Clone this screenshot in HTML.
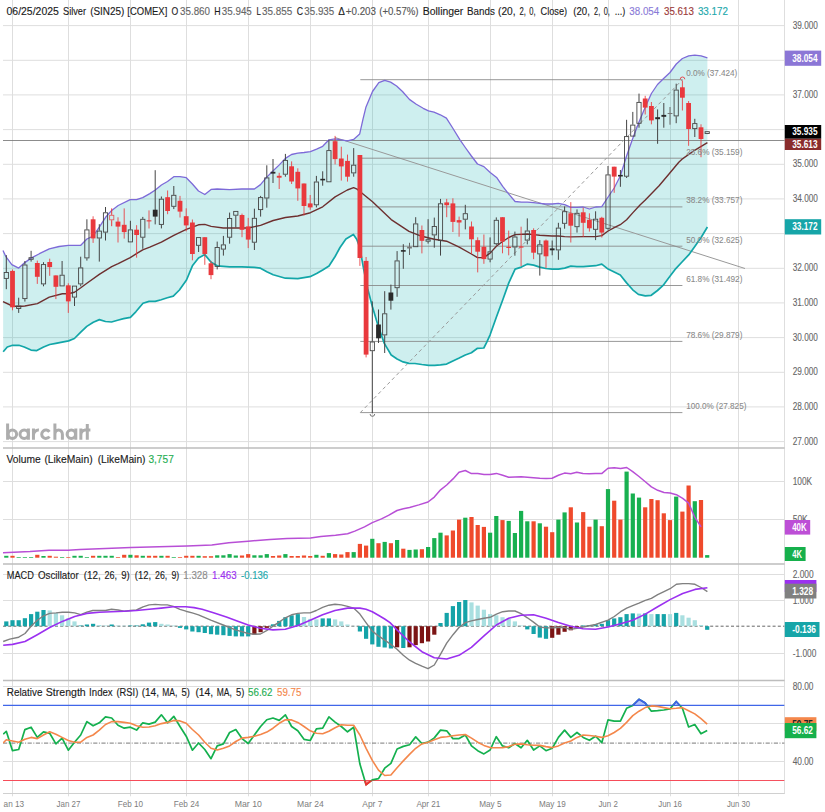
<!DOCTYPE html>
<html><head><meta charset="utf-8"><title>Silver (SIN25) chart</title>
<style>html,body{margin:0;padding:0;background:#fff}body{width:825px;height:812px;overflow:hidden;font-family:"Liberation Sans",sans-serif}svg{display:block}</style></head>
<body>
<svg width="825" height="812" viewBox="0 0 825 812" font-family="Liberation Sans, sans-serif">
<rect width="825" height="812" fill="#fff"/>
<defs><clipPath id="cp"><rect x="3" y="0" width="781.6" height="812"/></clipPath></defs>
<g stroke="#dedede" stroke-width="1" fill="none">
<line x1="12.5" y1="0" x2="12.5" y2="796.3"/>
<line x1="68.5" y1="0" x2="68.5" y2="796.3"/>
<line x1="130.5" y1="0" x2="130.5" y2="796.3"/>
<line x1="186.5" y1="0" x2="186.5" y2="796.3"/>
<line x1="248.5" y1="0" x2="248.5" y2="796.3"/>
<line x1="310.5" y1="0" x2="310.5" y2="796.3"/>
<line x1="372.5" y1="0" x2="372.5" y2="796.3"/>
<line x1="428.5" y1="0" x2="428.5" y2="796.3"/>
<line x1="490.5" y1="0" x2="490.5" y2="796.3"/>
<line x1="552.5" y1="0" x2="552.5" y2="796.3"/>
<line x1="608.5" y1="0" x2="608.5" y2="796.3"/>
<line x1="670.5" y1="0" x2="670.5" y2="796.3"/>
<line x1="738.5" y1="0" x2="738.5" y2="796.3"/>
<line x1="3" y1="25.6" x2="784.6" y2="25.6"/>
<line x1="3" y1="60.3" x2="784.6" y2="60.3"/>
<line x1="3" y1="94.9" x2="784.6" y2="94.9"/>
<line x1="3" y1="129.6" x2="784.6" y2="129.6"/>
<line x1="3" y1="164.3" x2="784.6" y2="164.3"/>
<line x1="3" y1="198.9" x2="784.6" y2="198.9"/>
<line x1="3" y1="233.6" x2="784.6" y2="233.6"/>
<line x1="3" y1="268.3" x2="784.6" y2="268.3"/>
<line x1="3" y1="302.9" x2="784.6" y2="302.9"/>
<line x1="3" y1="337.6" x2="784.6" y2="337.6"/>
<line x1="3" y1="372.3" x2="784.6" y2="372.3"/>
<line x1="3" y1="406.9" x2="784.6" y2="406.9"/>
<line x1="3" y1="441.6" x2="784.6" y2="441.6"/>
<line x1="3" y1="481.5" x2="784.6" y2="481.5"/>
<line x1="3" y1="519.5" x2="784.6" y2="519.5"/>
<line x1="3" y1="574.5" x2="784.6" y2="574.5"/>
<line x1="3" y1="600.5" x2="784.6" y2="600.5"/>
<line x1="3" y1="653.5" x2="784.6" y2="653.5"/>
<line x1="3" y1="686.5" x2="784.6" y2="686.5"/>
<line x1="3" y1="723.5" x2="784.6" y2="723.5"/>
<line x1="3" y1="761.5" x2="784.6" y2="761.5"/>
<line x1="784.5" y1="0" x2="784.5" y2="794"/>
<line x1="3" y1="793.5" x2="784.6" y2="793.5" stroke="#d0d0d0"/>
</g>
<line x1="3" y1="448" x2="784.6" y2="448" stroke="#bdbdbd" stroke-width="1.3"/>
<line x1="3" y1="564" x2="784.6" y2="564" stroke="#bdbdbd" stroke-width="1.3"/>
<line x1="3" y1="680.5" x2="784.6" y2="680.5" stroke="#bdbdbd" stroke-width="1.3"/>
<polygon points="3.0,250.4 5.9,256.7 11.8,264.6 18.7,268.1 24.8,262.6 31.1,258.1 39.4,253.7 49.3,248.8 59.1,246.5 68.4,245.3 80.8,245.3 86.9,239.0 93.2,236.0 99.3,227.1 105.6,217.3 111.7,210.4 118.2,205.5 130.2,199.6 136.5,199.6 142.7,197.6 149.8,193.6 155.3,190.0 161.4,185.0 167.5,181.5 173.8,176.7 180.0,176.7 186.3,177.7 192.4,184.0 198.5,191.0 204.8,194.5 211.1,189.4 217.2,189.0 229.6,189.6 241.8,189.0 254.4,189.0 260.5,184.6 266.8,177.1 273.2,170.8 279.3,164.9 285.4,158.4 291.5,154.5 297.8,153.1 304.0,152.5 310.4,151.6 316.6,149.1 322.7,146.3 329.0,139.8 335.1,138.8 347.3,140.8 353.6,139.4 359.7,133.9 363.0,119.1 366.0,106.9 372.5,91.5 378.8,82.7 384.7,80.3 390.6,82.1 396.6,86.0 402.5,91.5 409.4,99.4 416.3,104.3 423.2,108.3 428.5,110.8 434.0,112.2 440.3,114.8 446.4,118.1 452.7,128.0 460.0,139.8 465.3,147.5 471.4,156.0 477.5,164.0 483.9,166.6 490.2,172.5 496.6,177.4 502.7,186.3 508.8,194.2 515.1,201.5 521.4,202.1 527.5,202.1 533.6,202.7 539.7,203.4 545.8,204.0 552.1,204.0 558.4,203.4 564.7,204.6 570.8,207.4 576.9,207.4 583.3,207.0 589.4,209.0 595.7,207.0 601.8,206.6 608.1,197.0 614.2,188.0 620.3,176.0 626.6,156.0 632.9,138.0 639.0,122.0 645.3,107.0 651.4,93.5 657.5,84.5 663.6,78.5 670.0,72.5 676.3,64.0 682.4,58.5 688.7,55.8 694.8,55.2 701.1,55.8 707.4,57.8 707.4,227.0 701.1,237.5 694.8,246.5 688.7,254.9 682.0,262.0 674.9,269.7 669.0,277.5 663.1,285.4 657.5,290.5 651.2,295.3 645.3,295.9 638.4,294.3 632.7,289.8 626.6,282.9 620.3,275.0 614.2,272.0 608.1,269.1 601.8,264.1 595.7,265.7 589.4,266.1 583.3,266.7 576.9,266.7 570.8,266.1 564.7,268.1 558.4,269.1 552.1,269.1 545.8,268.5 539.7,267.1 533.6,265.1 527.5,264.1 521.4,267.1 515.1,269.1 508.8,282.9 502.7,300.0 496.6,316.5 490.1,334.8 486.8,342.2 483.8,348.0 477.5,348.3 471.4,352.7 465.3,355.0 459.2,358.0 452.9,360.9 446.6,364.1 440.5,364.9 434.6,365.3 428.7,365.3 421.8,364.5 414.9,363.5 409.0,363.3 403.1,361.9 397.1,359.0 391.2,355.0 384.3,343.4 378.4,326.7 372.5,307.0 367.6,288.5 363.6,268.8 359.7,247.1 356.7,239.3 353.4,234.5 345.9,239.0 340.0,247.5 335.1,256.5 329.0,266.0 322.7,270.0 316.6,273.5 310.0,276.7 297.8,278.6 285.4,278.2 273.2,274.7 266.8,271.7 260.5,268.2 254.4,267.4 241.8,266.8 229.6,266.8 217.2,265.8 211.1,262.3 204.8,254.6 198.5,257.9 192.4,265.8 186.5,280.0 179.4,290.0 173.3,296.1 167.3,297.8 161.2,299.7 155.2,301.4 149.1,301.4 143.0,303.3 135.8,311.8 130.4,317.4 123.6,318.6 117.6,320.3 111.5,322.0 105.5,321.5 99.4,319.6 93.3,322.2 86.8,326.4 80.5,332.4 74.4,338.5 68.6,340.9 62.1,342.1 55.8,343.3 49.7,344.5 43.6,347.0 36.8,350.6 31.0,350.1 24.2,347.0 18.9,345.3 12.6,345.3 7.3,347.0 3.2,351.8" fill="#18b4b4" fill-opacity="0.21"/>
<line x1="3" y1="140.5" x2="784.6" y2="140.5" stroke="#777" stroke-width="0.85"/>
<line x1="335" y1="137.5" x2="745" y2="268.5" stroke="#999" stroke-width="1"/>
<line x1="360.3" y1="79.7" x2="682.4" y2="79.7" stroke="#858585" stroke-width="0.85"/>
<line x1="360.3" y1="158.2" x2="682.4" y2="158.2" stroke="#858585" stroke-width="0.85"/>
<line x1="360.3" y1="206.9" x2="682.4" y2="206.9" stroke="#858585" stroke-width="0.85"/>
<line x1="360.3" y1="246.2" x2="682.4" y2="246.2" stroke="#858585" stroke-width="0.85"/>
<line x1="360.3" y1="285.5" x2="682.4" y2="285.5" stroke="#858585" stroke-width="0.85"/>
<line x1="360.3" y1="341.4" x2="682.4" y2="341.4" stroke="#858585" stroke-width="0.85"/>
<line x1="360.3" y1="412.6" x2="682.4" y2="412.6" stroke="#858585" stroke-width="0.85"/>
<line x1="360.3" y1="412.6" x2="682.4" y2="79.7" stroke="#9a9a9a" stroke-width="1" stroke-dasharray="3.5,3"/>
<polyline points="3.2,351.8 7.3,347.0 12.6,345.3 18.9,345.3 24.2,347.0 31.0,350.1 36.8,350.6 43.6,347.0 49.7,344.5 55.8,343.3 62.1,342.1 68.6,340.9 74.4,338.5 80.5,332.4 86.8,326.4 93.3,322.2 99.4,319.6 105.5,321.5 111.5,322.0 117.6,320.3 123.6,318.6 130.4,317.4 135.8,311.8 143.0,303.3 149.1,301.4 155.2,301.4 161.2,299.7 167.3,297.8 173.3,296.1 179.4,290.0 186.5,280.0 192.4,265.8 198.5,257.9 204.8,254.6 211.1,262.3 217.2,265.8 229.6,266.8 241.8,266.8 254.4,267.4 260.5,268.2 266.8,271.7 273.2,274.7 285.4,278.2 297.8,278.6 310.0,276.7 316.6,273.5 322.7,270.0 329.0,266.0 335.1,256.5 340.0,247.5 345.9,239.0 353.4,234.5 356.7,239.3 359.7,247.1 363.6,268.8 367.6,288.5 372.5,307.0 378.4,326.7 384.3,343.4 391.2,355.0 397.1,359.0 403.1,361.9 409.0,363.3 414.9,363.5 421.8,364.5 428.7,365.3 434.6,365.3 440.5,364.9 446.6,364.1 452.9,360.9 459.2,358.0 465.3,355.0 471.4,352.7 477.5,348.3 483.8,348.0 486.8,342.2 490.1,334.8 496.6,316.5 502.7,300.0 508.8,282.9 515.1,269.1 521.4,267.1 527.5,264.1 533.6,265.1 539.7,267.1 545.8,268.5 552.1,269.1 558.4,269.1 564.7,268.1 570.8,266.1 576.9,266.7 583.3,266.7 589.4,266.1 595.7,265.7 601.8,264.1 608.1,269.1 614.2,272.0 620.3,275.0 626.6,282.9 632.7,289.8 638.4,294.3 645.3,295.9 651.2,295.3 657.5,290.5 663.1,285.4 669.0,277.5 674.9,269.7 682.0,262.0 688.7,254.9 694.8,246.5 701.1,237.5 707.4,227.0" fill="none" stroke="#12a6a8" stroke-width="1.7" stroke-linejoin="round"/>
<polyline points="3.0,250.4 5.9,256.7 11.8,264.6 18.7,268.1 24.8,262.6 31.1,258.1 39.4,253.7 49.3,248.8 59.1,246.5 68.4,245.3 80.8,245.3 86.9,239.0 93.2,236.0 99.3,227.1 105.6,217.3 111.7,210.4 118.2,205.5 130.2,199.6 136.5,199.6 142.7,197.6 149.8,193.6 155.3,190.0 161.4,185.0 167.5,181.5 173.8,176.7 180.0,176.7 186.3,177.7 192.4,184.0 198.5,191.0 204.8,194.5 211.1,189.4 217.2,189.0 229.6,189.6 241.8,189.0 254.4,189.0 260.5,184.6 266.8,177.1 273.2,170.8 279.3,164.9 285.4,158.4 291.5,154.5 297.8,153.1 304.0,152.5 310.4,151.6 316.6,149.1 322.7,146.3 329.0,139.8 335.1,138.8 347.3,140.8 353.6,139.4 359.7,133.9 363.0,119.1 366.0,106.9 372.5,91.5 378.8,82.7 384.7,80.3 390.6,82.1 396.6,86.0 402.5,91.5 409.4,99.4 416.3,104.3 423.2,108.3 428.5,110.8 434.0,112.2 440.3,114.8 446.4,118.1 452.7,128.0 460.0,139.8 465.3,147.5 471.4,156.0 477.5,164.0 483.9,166.6 490.2,172.5 496.6,177.4 502.7,186.3 508.8,194.2 515.1,201.5 521.4,202.1 527.5,202.1 533.6,202.7 539.7,203.4 545.8,204.0 552.1,204.0 558.4,203.4 564.7,204.6 570.8,207.4 576.9,207.4 583.3,207.0 589.4,209.0 595.7,207.0 601.8,206.6 608.1,197.0 614.2,188.0 620.3,176.0 626.6,156.0 632.9,138.0 639.0,122.0 645.3,107.0 651.4,93.5 657.5,84.5 663.6,78.5 670.0,72.5 676.3,64.0 682.4,58.5 688.7,55.8 694.8,55.2 701.1,55.8 707.4,57.8" fill="none" stroke="#7d6ad8" stroke-width="1.3" stroke-linejoin="round"/>
<polyline points="3.0,301.6 12.4,306.0 18.7,306.5 24.8,306.0 37.4,303.6 49.3,297.1 62.3,293.7 68.4,293.7 74.5,292.2 80.8,287.8 86.9,283.3 99.3,274.4 111.7,266.6 118.2,263.6 130.2,257.7 136.5,253.7 142.7,249.8 149.8,247.2 161.4,242.2 173.8,235.3 186.3,229.4 198.5,224.8 204.8,224.4 211.1,226.4 223.3,228.0 235.7,228.0 248.1,228.0 260.5,225.4 273.2,220.5 285.4,217.5 297.8,216.0 310.4,212.7 322.7,206.8 335.1,196.9 347.3,190.0 353.6,187.7 357.1,189.1 363.0,194.0 372.5,201.8 391.2,219.6 409.0,231.4 421.8,236.3 434.2,239.3 446.6,241.2 459.2,247.1 471.4,254.0 477.5,257.6 483.8,257.6 490.1,253.1 496.6,246.0 502.7,241.5 508.8,237.5 515.1,234.6 527.5,234.0 533.6,234.6 539.7,235.2 552.1,236.0 558.4,236.0 564.7,236.6 570.8,236.9 583.3,236.6 595.7,236.6 601.8,235.6 608.1,231.0 614.2,227.7 620.3,224.7 626.6,219.8 632.7,212.9 640.0,205.0 645.3,200.0 659.1,185.8 669.0,174.0 678.8,162.2 682.8,158.6 694.6,150.3 707.4,142.6" fill="none" stroke="#6d2f2f" stroke-width="1.4" stroke-linejoin="round"/>
<g clip-path="url(#cp)">
<path d="M6.3 255.1V272.1M6.3 278.8V289.2" stroke="#444" stroke-width="1" fill="none"/>
<rect x="4.2" y="272.5" width="4.2" height="5.9" fill="none" stroke="#444" stroke-width="0.9"/>
<line x1="12.5" y1="269.5" x2="12.5" y2="310.3" stroke="#e9393d" stroke-width="1" stroke-opacity="0.85"/>
<rect x="10.1" y="270.9" width="4.8" height="36.4" fill="#e9393d"/>
<path d="M18.7 297.7V305.6M18.7 308.9V312.9" stroke="#444" stroke-width="1" fill="none"/>
<rect x="16.6" y="306.0" width="4.2" height="2.5" fill="none" stroke="#444" stroke-width="0.9"/>
<path d="M24.9 261V264.6M24.9 299.0V301.6" stroke="#444" stroke-width="1" fill="none"/>
<rect x="22.8" y="265.0" width="4.2" height="33.6" fill="none" stroke="#444" stroke-width="0.9"/>
<path d="M31.1 250.8V257.3M31.1 259.7V261.6" stroke="#444" stroke-width="1" fill="none"/>
<rect x="29.0" y="257.7" width="4.2" height="1.6" fill="none" stroke="#444" stroke-width="0.9"/>
<line x1="37.3" y1="260.6" x2="37.3" y2="283.9" stroke="#e9393d" stroke-width="1" stroke-opacity="0.85"/>
<rect x="34.9" y="263.0" width="4.8" height="13.8" fill="#e9393d"/>
<path d="M43.5 262.2V264.2M43.5 284.3V286.3" stroke="#444" stroke-width="1" fill="none"/>
<rect x="41.4" y="264.6" width="4.2" height="19.3" fill="none" stroke="#444" stroke-width="0.9"/>
<line x1="49.7" y1="258.7" x2="49.7" y2="275.8" stroke="#e9393d" stroke-width="1" stroke-opacity="0.85"/>
<rect x="47.3" y="262.0" width="4.8" height="5.1" fill="#e9393d"/>
<line x1="55.9" y1="275.4" x2="55.9" y2="299.1" stroke="#e9393d" stroke-width="1" stroke-opacity="0.85"/>
<rect x="53.5" y="275.4" width="4.8" height="11.4" fill="#e9393d"/>
<path d="M62.1 261V274.8M62.1 286.3V286.3" stroke="#444" stroke-width="1" fill="none"/>
<rect x="60.0" y="275.2" width="4.2" height="10.7" fill="none" stroke="#444" stroke-width="0.9"/>
<line x1="68.3" y1="283.3" x2="68.3" y2="312.9" stroke="#e9393d" stroke-width="1" stroke-opacity="0.85"/>
<rect x="65.9" y="285.3" width="4.8" height="16.1" fill="#e9393d"/>
<path d="M74.5 285.7V285.7M74.5 297.5V306" stroke="#444" stroke-width="1" fill="none"/>
<rect x="72.4" y="286.1" width="4.2" height="11.0" fill="none" stroke="#444" stroke-width="0.9"/>
<path d="M80.7 256.7V267.5M80.7 284.3V286.3" stroke="#444" stroke-width="1" fill="none"/>
<rect x="78.6" y="267.9" width="4.2" height="16.0" fill="none" stroke="#444" stroke-width="0.9"/>
<path d="M86.9 219.3V229.5M86.9 258.3V260.6" stroke="#444" stroke-width="1" fill="none"/>
<rect x="84.8" y="229.9" width="4.2" height="28.0" fill="none" stroke="#444" stroke-width="0.9"/>
<line x1="93.1" y1="216.3" x2="93.1" y2="242.9" stroke="#e9393d" stroke-width="1" stroke-opacity="0.85"/>
<rect x="90.7" y="219.3" width="4.8" height="19.1" fill="#e9393d"/>
<path d="M99.3 224.2V230.7M99.3 238.4V261.6" stroke="#444" stroke-width="1" fill="none"/>
<rect x="97.2" y="231.1" width="4.2" height="6.9" fill="none" stroke="#444" stroke-width="0.9"/>
<path d="M105.5 207V212.4M105.5 232.5V240.5" stroke="#444" stroke-width="1" fill="none"/>
<rect x="103.4" y="212.8" width="4.2" height="19.3" fill="none" stroke="#444" stroke-width="0.9"/>
<path d="M111.7 208.4V214.9M111.7 220.2V226.2" stroke="#e9393d" stroke-width="1" fill="none"/>
<rect x="109.6" y="215.3" width="4.2" height="4.5" fill="none" stroke="#e9393d" stroke-width="0.9" stroke-opacity="0.8"/>
<line x1="118.0" y1="217.3" x2="118.0" y2="242.5" stroke="#e9393d" stroke-width="1" stroke-opacity="0.85"/>
<rect x="115.6" y="221.6" width="4.8" height="5.0" fill="#e9393d"/>
<line x1="124.2" y1="208.4" x2="124.2" y2="238.6" stroke="#e9393d" stroke-width="1" stroke-opacity="0.85"/>
<rect x="121.8" y="224.8" width="4.8" height="7.3" fill="#e9393d"/>
<path d="M130.4 220.8V229.5M130.4 242.3V242.3" stroke="#444" stroke-width="1" fill="none"/>
<rect x="128.3" y="229.9" width="4.2" height="12.0" fill="none" stroke="#444" stroke-width="0.9"/>
<line x1="136.6" y1="225.2" x2="136.6" y2="257.7" stroke="#e9393d" stroke-width="1" stroke-opacity="0.85"/>
<rect x="134.2" y="229.7" width="4.8" height="5.3" fill="#e9393d"/>
<path d="M142.8 216.9V218.9M142.8 237.6V248.8" stroke="#444" stroke-width="1" fill="none"/>
<rect x="140.7" y="219.3" width="4.2" height="17.9" fill="none" stroke="#444" stroke-width="0.9"/>
<line x1="149.0" y1="210.4" x2="149.0" y2="228.5" stroke="#e9393d" stroke-width="1" stroke-opacity="0.85"/>
<rect x="146.6" y="220.3" width="4.8" height="1.1" fill="#e9393d"/>
<line x1="155.2" y1="170.2" x2="155.2" y2="224.4" stroke="#444" stroke-width="1"/>
<rect x="152.8" y="209.7" width="4.8" height="6.9" fill="#2a2a2a"/>
<path d="M161.4 196.5V198.8M161.4 224.8V228.4" stroke="#444" stroke-width="1" fill="none"/>
<rect x="159.3" y="199.2" width="4.2" height="25.2" fill="none" stroke="#444" stroke-width="0.9"/>
<line x1="167.6" y1="190.5" x2="167.6" y2="214.2" stroke="#e9393d" stroke-width="1" stroke-opacity="0.85"/>
<rect x="165.2" y="197.2" width="4.8" height="13.8" fill="#e9393d"/>
<path d="M173.8 186V194.9M173.8 206.7V209.1" stroke="#444" stroke-width="1" fill="none"/>
<rect x="171.7" y="195.3" width="4.2" height="11.0" fill="none" stroke="#444" stroke-width="0.9"/>
<line x1="180.0" y1="195.9" x2="180.0" y2="217.5" stroke="#e9393d" stroke-width="1" stroke-opacity="0.85"/>
<rect x="177.6" y="200.8" width="4.8" height="10.8" fill="#e9393d"/>
<line x1="186.2" y1="208.3" x2="186.2" y2="231.3" stroke="#e9393d" stroke-width="1" stroke-opacity="0.85"/>
<rect x="183.8" y="216.2" width="4.8" height="9.2" fill="#e9393d"/>
<line x1="192.4" y1="219.5" x2="192.4" y2="260.3" stroke="#e9393d" stroke-width="1" stroke-opacity="0.85"/>
<rect x="190.0" y="222.5" width="4.8" height="31.5" fill="#e9393d"/>
<path d="M198.6 237.2V237.2M198.6 245.7V252" stroke="#444" stroke-width="1" fill="none"/>
<rect x="196.5" y="237.6" width="4.2" height="7.7" fill="none" stroke="#444" stroke-width="0.9"/>
<line x1="204.8" y1="237.2" x2="204.8" y2="264.8" stroke="#e9393d" stroke-width="1" stroke-opacity="0.85"/>
<rect x="202.4" y="237.2" width="4.8" height="16.8" fill="#e9393d"/>
<line x1="211.0" y1="260.9" x2="211.0" y2="279.2" stroke="#e9393d" stroke-width="1" stroke-opacity="0.85"/>
<rect x="208.6" y="263.3" width="4.8" height="11.8" fill="#e9393d"/>
<path d="M217.2 241.6V247.1M217.2 266.8V269.4" stroke="#444" stroke-width="1" fill="none"/>
<rect x="215.1" y="247.5" width="4.2" height="18.9" fill="none" stroke="#444" stroke-width="0.9"/>
<path d="M223.4 235.9V244.5M223.4 249.5V255.6" stroke="#444" stroke-width="1" fill="none"/>
<rect x="221.3" y="244.9" width="4.2" height="4.2" fill="none" stroke="#444" stroke-width="0.9"/>
<path d="M229.6 212.6V218.1M229.6 237.6V243.7" stroke="#444" stroke-width="1" fill="none"/>
<rect x="227.5" y="218.5" width="4.2" height="18.7" fill="none" stroke="#444" stroke-width="0.9"/>
<path d="M235.8 211V211.0M235.8 215.6V227.4" stroke="#444" stroke-width="1" fill="none"/>
<rect x="233.7" y="211.4" width="4.2" height="3.8" fill="none" stroke="#444" stroke-width="0.9"/>
<line x1="242.0" y1="213.6" x2="242.0" y2="237.2" stroke="#e9393d" stroke-width="1" stroke-opacity="0.85"/>
<rect x="239.6" y="215.0" width="4.8" height="14.8" fill="#e9393d"/>
<line x1="248.2" y1="217.9" x2="248.2" y2="248.1" stroke="#e9393d" stroke-width="1" stroke-opacity="0.85"/>
<rect x="245.8" y="226.4" width="4.8" height="13.2" fill="#e9393d"/>
<path d="M254.4 208.7V217.9M254.4 242.6V250" stroke="#444" stroke-width="1" fill="none"/>
<rect x="252.3" y="218.3" width="4.2" height="23.9" fill="none" stroke="#444" stroke-width="0.9"/>
<path d="M260.6 195.9V197.2M260.6 210.0V216.6" stroke="#444" stroke-width="1" fill="none"/>
<rect x="258.5" y="197.6" width="4.2" height="12.0" fill="none" stroke="#444" stroke-width="0.9"/>
<path d="M266.8 165.3V177.5M266.8 198.4V207.7" stroke="#444" stroke-width="1" fill="none"/>
<rect x="264.7" y="177.9" width="4.2" height="20.1" fill="none" stroke="#444" stroke-width="0.9"/>
<line x1="273.0" y1="159" x2="273.0" y2="183" stroke="#444" stroke-width="1"/>
<rect x="270.6" y="171.8" width="4.8" height="1.8" fill="#2a2a2a"/>
<line x1="279.2" y1="172.8" x2="279.2" y2="189" stroke="#e9393d" stroke-width="1" stroke-opacity="0.85"/>
<rect x="276.8" y="175.8" width="4.8" height="1.9" fill="#e9393d"/>
<path d="M285.4 153.9V160.0M285.4 174.6V176.7" stroke="#444" stroke-width="1" fill="none"/>
<rect x="283.3" y="160.4" width="4.2" height="13.8" fill="none" stroke="#444" stroke-width="0.9"/>
<line x1="291.6" y1="161.4" x2="291.6" y2="184" stroke="#e9393d" stroke-width="1" stroke-opacity="0.85"/>
<rect x="289.2" y="166.3" width="4.8" height="15.2" fill="#e9393d"/>
<line x1="297.8" y1="168.3" x2="297.8" y2="200.8" stroke="#e9393d" stroke-width="1" stroke-opacity="0.85"/>
<rect x="295.4" y="171.8" width="4.8" height="16.6" fill="#e9393d"/>
<line x1="304.0" y1="183.5" x2="304.0" y2="215.5" stroke="#e9393d" stroke-width="1" stroke-opacity="0.85"/>
<rect x="301.6" y="183.5" width="4.8" height="22.5" fill="#e9393d"/>
<line x1="310.2" y1="195" x2="310.2" y2="209.8" stroke="#e9393d" stroke-width="1" stroke-opacity="0.85"/>
<rect x="307.8" y="203.4" width="4.8" height="4.0" fill="#e9393d"/>
<path d="M316.4 175.9V181.6M316.4 205.2V207.4" stroke="#444" stroke-width="1" fill="none"/>
<rect x="314.3" y="182.0" width="4.2" height="22.8" fill="none" stroke="#444" stroke-width="0.9"/>
<line x1="322.7" y1="171.3" x2="322.7" y2="185.7" stroke="#444" stroke-width="1"/>
<rect x="320.3" y="178.8" width="4.8" height="1.6" fill="#2a2a2a"/>
<path d="M328.9 139.8V150.2M328.9 182.2V182.2" stroke="#444" stroke-width="1" fill="none"/>
<rect x="326.8" y="150.6" width="4.2" height="31.2" fill="none" stroke="#444" stroke-width="0.9"/>
<line x1="335.1" y1="135.9" x2="335.1" y2="164.4" stroke="#e9393d" stroke-width="1" stroke-opacity="0.85"/>
<rect x="332.7" y="141.2" width="4.8" height="17.9" fill="#e9393d"/>
<line x1="341.3" y1="146.7" x2="341.3" y2="180.6" stroke="#e9393d" stroke-width="1" stroke-opacity="0.85"/>
<rect x="338.9" y="158.5" width="4.8" height="7.9" fill="#e9393d"/>
<line x1="347.5" y1="154.6" x2="347.5" y2="181.6" stroke="#e9393d" stroke-width="1" stroke-opacity="0.85"/>
<rect x="345.1" y="160.9" width="4.8" height="15.8" fill="#e9393d"/>
<path d="M353.7 148.1V164.8M353.7 173.3V176.7" stroke="#444" stroke-width="1" fill="none"/>
<rect x="351.6" y="165.2" width="4.2" height="7.7" fill="none" stroke="#444" stroke-width="0.9"/>
<line x1="359.9" y1="155" x2="359.9" y2="265.9" stroke="#e9393d" stroke-width="1" stroke-opacity="0.85"/>
<rect x="357.5" y="155.0" width="4.8" height="103.0" fill="#e9393d"/>
<line x1="366.1" y1="257" x2="366.1" y2="357.4" stroke="#e9393d" stroke-width="1" stroke-opacity="0.85"/>
<rect x="363.7" y="260.9" width="4.8" height="93.7" fill="#e9393d"/>
<path d="M372.3 301.4V341.6M372.3 351.1V413.2" stroke="#444" stroke-width="1" fill="none"/>
<rect x="370.2" y="342.0" width="4.2" height="8.7" fill="none" stroke="#444" stroke-width="0.9"/>
<line x1="378.5" y1="309.5" x2="378.5" y2="343" stroke="#444" stroke-width="1"/>
<rect x="376.1" y="324.5" width="4.8" height="13.8" fill="#2a2a2a"/>
<path d="M384.7 291.2V313.4M384.7 335.3V353" stroke="#444" stroke-width="1" fill="none"/>
<rect x="382.6" y="313.8" width="4.2" height="21.1" fill="none" stroke="#444" stroke-width="0.9"/>
<line x1="390.9" y1="284.6" x2="390.9" y2="309.6" stroke="#444" stroke-width="1"/>
<rect x="388.5" y="292.5" width="4.8" height="8.2" fill="#2a2a2a"/>
<path d="M397.1 251.1V260.5M397.1 288.1V296.8" stroke="#444" stroke-width="1" fill="none"/>
<rect x="395.0" y="260.9" width="4.2" height="26.8" fill="none" stroke="#444" stroke-width="0.9"/>
<line x1="403.3" y1="244.2" x2="403.3" y2="268.8" stroke="#444" stroke-width="1"/>
<rect x="400.9" y="250.1" width="4.8" height="1.6" fill="#2a2a2a"/>
<line x1="409.5" y1="242.8" x2="409.5" y2="255" stroke="#666" stroke-width="1"/>
<rect x="407.1" y="246.7" width="4.8" height="1.8" fill="#777"/>
<path d="M415.7 217.2V223.5M415.7 247.1V247.1" stroke="#444" stroke-width="1" fill="none"/>
<rect x="413.6" y="223.9" width="4.2" height="22.8" fill="none" stroke="#444" stroke-width="0.9"/>
<line x1="421.9" y1="225.5" x2="421.9" y2="253.4" stroke="#e9393d" stroke-width="1" stroke-opacity="0.85"/>
<rect x="419.5" y="230.0" width="4.8" height="10.8" fill="#e9393d"/>
<path d="M428.1 219.2V239.3M428.1 241.6V243.6" stroke="#444" stroke-width="1" fill="none"/>
<rect x="426.0" y="239.7" width="4.2" height="1.5" fill="none" stroke="#444" stroke-width="0.9"/>
<path d="M434.3 217.6V226.1M434.3 235.3V247.7" stroke="#444" stroke-width="1" fill="none"/>
<rect x="432.2" y="226.5" width="4.2" height="8.4" fill="none" stroke="#444" stroke-width="0.9"/>
<path d="M440.5 198.9V203.4M440.5 240.8V255.6" stroke="#444" stroke-width="1" fill="none"/>
<rect x="438.4" y="203.8" width="4.2" height="36.6" fill="none" stroke="#444" stroke-width="0.9"/>
<line x1="446.7" y1="198.9" x2="446.7" y2="217.2" stroke="#e9393d" stroke-width="1" stroke-opacity="0.85"/>
<rect x="444.3" y="202.4" width="4.8" height="2.8" fill="#e9393d"/>
<line x1="452.9" y1="198.3" x2="452.9" y2="232" stroke="#e9393d" stroke-width="1" stroke-opacity="0.85"/>
<rect x="450.5" y="203.4" width="4.8" height="18.5" fill="#e9393d"/>
<line x1="459.1" y1="216.6" x2="459.1" y2="236.7" stroke="#e9393d" stroke-width="1" stroke-opacity="0.85"/>
<rect x="456.7" y="220.1" width="4.8" height="2.4" fill="#e9393d"/>
<path d="M465.3 204.8V213.3M465.3 219.6V229.4" stroke="#444" stroke-width="1" fill="none"/>
<rect x="463.2" y="213.7" width="4.2" height="5.5" fill="none" stroke="#444" stroke-width="0.9"/>
<line x1="471.5" y1="221.5" x2="471.5" y2="254" stroke="#e9393d" stroke-width="1" stroke-opacity="0.85"/>
<rect x="469.1" y="226.5" width="4.8" height="12.8" fill="#e9393d"/>
<line x1="477.7" y1="237.3" x2="477.7" y2="272.4" stroke="#e9393d" stroke-width="1" stroke-opacity="0.85"/>
<rect x="475.3" y="240.2" width="4.8" height="11.5" fill="#e9393d"/>
<line x1="483.9" y1="234.5" x2="483.9" y2="263.8" stroke="#e9393d" stroke-width="1" stroke-opacity="0.85"/>
<rect x="481.5" y="246.8" width="4.8" height="12.3" fill="#e9393d"/>
<path d="M490.1 237.4V251.4M490.1 259.5V262.3" stroke="#444" stroke-width="1" fill="none"/>
<rect x="488.0" y="251.8" width="4.2" height="7.3" fill="none" stroke="#444" stroke-width="0.9"/>
<path d="M496.3 217.4V219.9M496.3 244.1V245.1" stroke="#444" stroke-width="1" fill="none"/>
<rect x="494.2" y="220.3" width="4.2" height="23.4" fill="none" stroke="#444" stroke-width="0.9"/>
<line x1="502.5" y1="217.2" x2="502.5" y2="253.3" stroke="#e9393d" stroke-width="1" stroke-opacity="0.85"/>
<rect x="500.1" y="217.2" width="4.8" height="24.3" fill="#e9393d"/>
<line x1="508.7" y1="230.6" x2="508.7" y2="255.3" stroke="#e9393d" stroke-width="1" stroke-opacity="0.85"/>
<rect x="506.3" y="246.8" width="4.8" height="1.2" fill="#e9393d"/>
<path d="M514.9 231.6V236.6M514.9 247.4V255.7" stroke="#444" stroke-width="1" fill="none"/>
<rect x="512.8" y="237.0" width="4.2" height="10.0" fill="none" stroke="#444" stroke-width="0.9"/>
<line x1="521.1" y1="226.7" x2="521.1" y2="266.1" stroke="#e9393d" stroke-width="1" stroke-opacity="0.85"/>
<rect x="518.7" y="246.4" width="4.8" height="1.2" fill="#e9393d"/>
<path d="M527.3 218.4V230.6M527.3 240.5V244.4" stroke="#444" stroke-width="1" fill="none"/>
<rect x="525.2" y="231.0" width="4.2" height="9.1" fill="none" stroke="#444" stroke-width="0.9"/>
<line x1="533.6" y1="228.3" x2="533.6" y2="259.2" stroke="#e9393d" stroke-width="1" stroke-opacity="0.85"/>
<rect x="531.2" y="230.0" width="4.8" height="22.7" fill="#e9393d"/>
<path d="M539.8 240.1V244.4M539.8 254.3V275.6" stroke="#444" stroke-width="1" fill="none"/>
<rect x="537.7" y="244.8" width="4.2" height="9.1" fill="none" stroke="#444" stroke-width="0.9"/>
<line x1="546.0" y1="239.5" x2="546.0" y2="268.1" stroke="#e9393d" stroke-width="1" stroke-opacity="0.85"/>
<rect x="543.6" y="240.5" width="4.8" height="15.8" fill="#e9393d"/>
<line x1="552.2" y1="240.5" x2="552.2" y2="255.3" stroke="#444" stroke-width="1"/>
<rect x="549.8" y="248.4" width="4.8" height="1.9" fill="#2a2a2a"/>
<path d="M558.4 222.8V227.7M558.4 250.3V259.8" stroke="#444" stroke-width="1" fill="none"/>
<rect x="556.3" y="228.1" width="4.2" height="21.8" fill="none" stroke="#444" stroke-width="0.9"/>
<path d="M564.6 206.4V211.3M564.6 223.7V228.7" stroke="#444" stroke-width="1" fill="none"/>
<rect x="562.5" y="211.7" width="4.2" height="11.6" fill="none" stroke="#444" stroke-width="0.9"/>
<line x1="570.8" y1="202.1" x2="570.8" y2="242.5" stroke="#e9393d" stroke-width="1" stroke-opacity="0.85"/>
<rect x="568.4" y="213.3" width="4.8" height="12.4" fill="#e9393d"/>
<path d="M577.0 209.4V212.9M577.0 227.1V232.6" stroke="#444" stroke-width="1" fill="none"/>
<rect x="574.9" y="213.3" width="4.2" height="13.4" fill="none" stroke="#444" stroke-width="0.9"/>
<line x1="583.2" y1="207.6" x2="583.2" y2="236.9" stroke="#e9393d" stroke-width="1" stroke-opacity="0.85"/>
<rect x="580.8" y="212.3" width="4.8" height="10.5" fill="#e9393d"/>
<line x1="589.4" y1="213.3" x2="589.4" y2="231.6" stroke="#e9393d" stroke-width="1" stroke-opacity="0.85"/>
<rect x="587.0" y="219.8" width="4.8" height="8.5" fill="#e9393d"/>
<path d="M595.6 211.3V218.8M595.6 229.7V240.1" stroke="#444" stroke-width="1" fill="none"/>
<rect x="593.5" y="219.2" width="4.2" height="10.1" fill="none" stroke="#444" stroke-width="0.9"/>
<line x1="601.8" y1="216.8" x2="601.8" y2="237.5" stroke="#e9393d" stroke-width="1" stroke-opacity="0.85"/>
<rect x="599.4" y="217.8" width="4.8" height="14.8" fill="#e9393d"/>
<path d="M608.0 166V174.5M608.0 228.7V229.7" stroke="#444" stroke-width="1" fill="none"/>
<rect x="605.9" y="174.9" width="4.2" height="53.4" fill="none" stroke="#444" stroke-width="0.9"/>
<line x1="614.2" y1="166.7" x2="614.2" y2="192.8" stroke="#e9393d" stroke-width="1" stroke-opacity="0.85"/>
<rect x="611.8" y="166.7" width="4.8" height="9.9" fill="#e9393d"/>
<line x1="620.4" y1="170" x2="620.4" y2="186.8" stroke="#444" stroke-width="1"/>
<rect x="618.0" y="174.9" width="4.8" height="1.6" fill="#2a2a2a"/>
<path d="M626.6 119.8V136.2M626.6 176.6V178" stroke="#444" stroke-width="1" fill="none"/>
<rect x="624.5" y="136.6" width="4.2" height="39.6" fill="none" stroke="#444" stroke-width="0.9"/>
<path d="M632.8 111.9V124.7M632.8 136.5V136.5" stroke="#444" stroke-width="1" fill="none"/>
<rect x="630.7" y="125.1" width="4.2" height="11.0" fill="none" stroke="#444" stroke-width="0.9"/>
<path d="M639.0 93.6V102.0M639.0 123.7V127.7" stroke="#444" stroke-width="1" fill="none"/>
<rect x="636.9" y="102.4" width="4.2" height="20.9" fill="none" stroke="#444" stroke-width="0.9"/>
<line x1="645.2" y1="95.8" x2="645.2" y2="114.5" stroke="#e9393d" stroke-width="1" stroke-opacity="0.85"/>
<rect x="642.8" y="98.5" width="4.8" height="9.1" fill="#e9393d"/>
<line x1="651.4" y1="102" x2="651.4" y2="124.3" stroke="#e9393d" stroke-width="1" stroke-opacity="0.85"/>
<rect x="649.0" y="106.0" width="4.8" height="14.4" fill="#e9393d"/>
<line x1="657.6" y1="109.4" x2="657.6" y2="143.8" stroke="#444" stroke-width="1"/>
<rect x="655.2" y="117.2" width="4.8" height="2.0" fill="#2a2a2a"/>
<line x1="663.8" y1="103" x2="663.8" y2="127.7" stroke="#444" stroke-width="1"/>
<rect x="661.4" y="114.9" width="4.8" height="1.9" fill="#2a2a2a"/>
<line x1="670.0" y1="107" x2="670.0" y2="124.7" stroke="#666" stroke-width="1"/>
<rect x="667.6" y="113.0" width="4.8" height="1.0" fill="#777"/>
<path d="M676.2 83.7V89.7M676.2 116.3V123.2" stroke="#444" stroke-width="1" fill="none"/>
<rect x="674.1" y="90.1" width="4.2" height="25.8" fill="none" stroke="#444" stroke-width="0.9"/>
<line x1="682.4" y1="80.4" x2="682.4" y2="110.5" stroke="#e9393d" stroke-width="1" stroke-opacity="0.85"/>
<rect x="680.0" y="87.3" width="4.8" height="10.4" fill="#e9393d"/>
<line x1="688.6" y1="101" x2="688.6" y2="145.8" stroke="#e9393d" stroke-width="1" stroke-opacity="0.85"/>
<rect x="686.2" y="103.0" width="4.8" height="26.0" fill="#e9393d"/>
<path d="M694.8 118.8V123.2M694.8 129.0V137" stroke="#444" stroke-width="1" fill="none"/>
<rect x="692.7" y="123.6" width="4.2" height="5.0" fill="none" stroke="#444" stroke-width="0.9"/>
<line x1="701.0" y1="124.3" x2="701.0" y2="157.2" stroke="#e9393d" stroke-width="1" stroke-opacity="0.85"/>
<rect x="698.6" y="127.3" width="4.8" height="11.7" fill="#e9393d"/>
<path d="M707.2 131.1V131.3M707.2 133.9V134.1" stroke="#444" stroke-width="1" fill="none"/>
<rect x="705.1" y="131.7" width="4.2" height="1.8" fill="none" stroke="#444" stroke-width="0.9"/>
</g>
<path d="M680.2 79.3 A2.3 2.3 0 0 1 684.8 79.3" fill="none" stroke="#e9393d" stroke-width="0.9"/>
<path d="M370.1 414 A2.3 2.3 0 0 0 374.7 414" fill="none" stroke="#666" stroke-width="0.9"/>
<g clip-path="url(#cp)">
<rect x="4.2" y="555.8" width="4.2" height="1.9" fill="#18b050"/>
<rect x="10.4" y="555.8" width="4.2" height="1.9" fill="#ef4a2c"/>
<rect x="16.6" y="557.0" width="4.2" height="0.7" fill="#18b050"/>
<rect x="22.8" y="557.0" width="4.2" height="0.7" fill="#18b050"/>
<rect x="29.0" y="557.0" width="4.2" height="0.7" fill="#18b050"/>
<rect x="35.2" y="554.8" width="4.2" height="2.9" fill="#ef4a2c"/>
<rect x="41.4" y="556.0" width="4.2" height="1.7" fill="#18b050"/>
<rect x="47.6" y="555.8" width="4.2" height="1.9" fill="#ef4a2c"/>
<rect x="53.8" y="556.7" width="4.2" height="1.0" fill="#ef4a2c"/>
<rect x="60.0" y="557.0" width="4.2" height="0.7" fill="#18b050"/>
<rect x="66.2" y="557.0" width="4.2" height="0.7" fill="#ef4a2c"/>
<rect x="72.4" y="555.8" width="4.2" height="1.9" fill="#18b050"/>
<rect x="78.6" y="555.8" width="4.2" height="1.9" fill="#18b050"/>
<rect x="84.8" y="557.0" width="4.2" height="0.7" fill="#18b050"/>
<rect x="91.0" y="555.8" width="4.2" height="1.9" fill="#ef4a2c"/>
<rect x="97.2" y="555.8" width="4.2" height="1.9" fill="#18b050"/>
<rect x="103.4" y="555.8" width="4.2" height="1.9" fill="#18b050"/>
<rect x="109.6" y="555.8" width="4.2" height="1.9" fill="#18b050"/>
<rect x="115.9" y="557.0" width="4.2" height="0.7" fill="#ef4a2c"/>
<rect x="122.1" y="554.8" width="4.2" height="2.9" fill="#ef4a2c"/>
<rect x="128.3" y="554.8" width="4.2" height="2.9" fill="#18b050"/>
<rect x="134.5" y="555.3" width="4.2" height="2.4" fill="#ef4a2c"/>
<rect x="140.7" y="555.8" width="4.2" height="1.9" fill="#18b050"/>
<rect x="146.9" y="555.8" width="4.2" height="1.9" fill="#ef4a2c"/>
<rect x="153.1" y="555.8" width="4.2" height="1.9" fill="#ef4a2c"/>
<rect x="159.3" y="555.8" width="4.2" height="1.9" fill="#18b050"/>
<rect x="165.5" y="555.8" width="4.2" height="1.9" fill="#ef4a2c"/>
<rect x="171.7" y="557.0" width="4.2" height="0.7" fill="#18b050"/>
<rect x="177.9" y="557.0" width="4.2" height="0.7" fill="#ef4a2c"/>
<rect x="184.1" y="555.8" width="4.2" height="1.9" fill="#ef4a2c"/>
<rect x="190.3" y="555.8" width="4.2" height="1.9" fill="#ef4a2c"/>
<rect x="196.5" y="555.8" width="4.2" height="1.9" fill="#18b050"/>
<rect x="202.7" y="556.2" width="4.2" height="1.5" fill="#ef4a2c"/>
<rect x="208.9" y="556.2" width="4.2" height="1.5" fill="#ef4a2c"/>
<rect x="215.1" y="555.3" width="4.2" height="2.4" fill="#18b050"/>
<rect x="221.3" y="555.3" width="4.2" height="2.4" fill="#18b050"/>
<rect x="227.5" y="554.1" width="4.2" height="3.6" fill="#18b050"/>
<rect x="233.7" y="555.5" width="4.2" height="2.2" fill="#18b050"/>
<rect x="239.9" y="555.5" width="4.2" height="2.2" fill="#ef4a2c"/>
<rect x="246.1" y="554.1" width="4.2" height="3.6" fill="#ef4a2c"/>
<rect x="252.3" y="555.3" width="4.2" height="2.4" fill="#18b050"/>
<rect x="258.5" y="555.3" width="4.2" height="2.4" fill="#18b050"/>
<rect x="264.7" y="554.1" width="4.2" height="3.6" fill="#18b050"/>
<rect x="270.9" y="556.0" width="4.2" height="1.7" fill="#ef4a2c"/>
<rect x="277.1" y="555.5" width="4.2" height="2.2" fill="#ef4a2c"/>
<rect x="283.3" y="554.1" width="4.2" height="3.6" fill="#18b050"/>
<rect x="289.5" y="556.0" width="4.2" height="1.7" fill="#ef4a2c"/>
<rect x="295.7" y="556.0" width="4.2" height="1.7" fill="#ef4a2c"/>
<rect x="301.9" y="555.5" width="4.2" height="2.2" fill="#ef4a2c"/>
<rect x="308.1" y="556.0" width="4.2" height="1.7" fill="#ef4a2c"/>
<rect x="314.3" y="554.8" width="4.2" height="2.9" fill="#18b050"/>
<rect x="320.6" y="555.8" width="4.2" height="1.9" fill="#ef4a2c"/>
<rect x="326.8" y="553.1" width="4.2" height="4.6" fill="#18b050"/>
<rect x="333.0" y="554.1" width="4.2" height="3.6" fill="#ef4a2c"/>
<rect x="339.2" y="554.5" width="4.2" height="3.2" fill="#ef4a2c"/>
<rect x="345.4" y="552.1" width="4.2" height="5.6" fill="#ef4a2c"/>
<rect x="351.6" y="552.1" width="4.2" height="5.6" fill="#18b050"/>
<rect x="357.8" y="543.9" width="4.2" height="13.8" fill="#ef4a2c"/>
<rect x="364.0" y="545.6" width="4.2" height="12.1" fill="#ef4a2c"/>
<rect x="370.2" y="538.8" width="4.2" height="18.9" fill="#18b050"/>
<rect x="376.4" y="543.2" width="4.2" height="14.5" fill="#ef4a2c"/>
<rect x="382.6" y="541.9" width="4.2" height="15.8" fill="#18b050"/>
<rect x="388.8" y="543.2" width="4.2" height="14.5" fill="#ef4a2c"/>
<rect x="395.0" y="540.0" width="4.2" height="17.7" fill="#18b050"/>
<rect x="401.2" y="548.7" width="4.2" height="9.0" fill="#ef4a2c"/>
<rect x="407.4" y="549.9" width="4.2" height="7.8" fill="#18b050"/>
<rect x="413.6" y="549.5" width="4.2" height="8.2" fill="#18b050"/>
<rect x="419.8" y="549.2" width="4.2" height="8.5" fill="#ef4a2c"/>
<rect x="426.0" y="547.0" width="4.2" height="10.7" fill="#18b050"/>
<rect x="432.2" y="538.1" width="4.2" height="19.6" fill="#18b050"/>
<rect x="438.4" y="532.7" width="4.2" height="25.0" fill="#18b050"/>
<rect x="444.6" y="535.4" width="4.2" height="22.3" fill="#ef4a2c"/>
<rect x="450.8" y="530.5" width="4.2" height="27.2" fill="#ef4a2c"/>
<rect x="457.0" y="519.6" width="4.2" height="38.1" fill="#ef4a2c"/>
<rect x="463.2" y="517.7" width="4.2" height="40.0" fill="#18b050"/>
<rect x="469.4" y="517.0" width="4.2" height="40.7" fill="#ef4a2c"/>
<rect x="475.6" y="525.0" width="4.2" height="32.7" fill="#ef4a2c"/>
<rect x="481.8" y="526.9" width="4.2" height="30.8" fill="#ef4a2c"/>
<rect x="488.0" y="532.7" width="4.2" height="25.0" fill="#18b050"/>
<rect x="494.2" y="516.0" width="4.2" height="41.7" fill="#18b050"/>
<rect x="500.4" y="520.1" width="4.2" height="37.6" fill="#ef4a2c"/>
<rect x="506.6" y="520.9" width="4.2" height="36.8" fill="#18b050"/>
<rect x="512.8" y="533.0" width="4.2" height="24.7" fill="#18b050"/>
<rect x="519.0" y="510.9" width="4.2" height="46.8" fill="#18b050"/>
<rect x="525.2" y="521.3" width="4.2" height="36.4" fill="#18b050"/>
<rect x="531.5" y="521.3" width="4.2" height="36.4" fill="#ef4a2c"/>
<rect x="537.7" y="523.3" width="4.2" height="34.4" fill="#18b050"/>
<rect x="543.9" y="526.7" width="4.2" height="31.0" fill="#ef4a2c"/>
<rect x="550.1" y="532.2" width="4.2" height="25.5" fill="#ef4a2c"/>
<rect x="556.3" y="519.6" width="4.2" height="38.1" fill="#18b050"/>
<rect x="562.5" y="512.4" width="4.2" height="45.3" fill="#18b050"/>
<rect x="568.7" y="507.3" width="4.2" height="50.4" fill="#ef4a2c"/>
<rect x="574.9" y="522.5" width="4.2" height="35.2" fill="#18b050"/>
<rect x="581.1" y="512.1" width="4.2" height="45.6" fill="#ef4a2c"/>
<rect x="587.3" y="526.7" width="4.2" height="31.0" fill="#ef4a2c"/>
<rect x="593.5" y="519.6" width="4.2" height="38.1" fill="#18b050"/>
<rect x="599.7" y="526.2" width="4.2" height="31.5" fill="#ef4a2c"/>
<rect x="605.9" y="489.1" width="4.2" height="68.6" fill="#18b050"/>
<rect x="612.1" y="500.7" width="4.2" height="57.0" fill="#ef4a2c"/>
<rect x="618.3" y="519.6" width="4.2" height="38.1" fill="#ef4a2c"/>
<rect x="624.5" y="471.6" width="4.2" height="86.1" fill="#18b050"/>
<rect x="630.7" y="493.5" width="4.2" height="64.2" fill="#18b050"/>
<rect x="636.9" y="497.6" width="4.2" height="60.1" fill="#18b050"/>
<rect x="643.1" y="507.3" width="4.2" height="50.4" fill="#ef4a2c"/>
<rect x="649.3" y="499.0" width="4.2" height="58.7" fill="#ef4a2c"/>
<rect x="655.5" y="500.2" width="4.2" height="57.5" fill="#ef4a2c"/>
<rect x="661.7" y="513.3" width="4.2" height="44.4" fill="#ef4a2c"/>
<rect x="667.9" y="520.1" width="4.2" height="37.6" fill="#ef4a2c"/>
<rect x="674.1" y="496.6" width="4.2" height="61.1" fill="#18b050"/>
<rect x="680.3" y="511.6" width="4.2" height="46.1" fill="#ef4a2c"/>
<rect x="686.5" y="485.5" width="4.2" height="72.2" fill="#ef4a2c"/>
<rect x="692.7" y="501.2" width="4.2" height="56.5" fill="#18b050"/>
<rect x="698.9" y="500.0" width="4.2" height="57.7" fill="#ef4a2c"/>
<rect x="705.1" y="555.1" width="4.2" height="2.6" fill="#18b050"/>
<polyline points="3.0,552.8 30.0,551.6 49.0,550.3 68.0,550.2 80.0,549.6 131.0,547.4 187.0,545.9 211.8,544.9 228.8,542.7 248.2,541.2 270.0,539.5 287.0,538.6 310.5,538.1 320.9,536.6 335.5,535.2 347.6,533.7 354.8,531.1 364.5,526.9 372.3,522.6 381.5,518.9 388.5,515.3 397.0,510.5 403.3,508.8 409.6,507.5 418.8,504.9 428.0,502.0 434.3,497.1 440.6,489.8 446.7,485.0 453.0,478.9 459.0,472.2 465.3,470.5 471.4,473.6 477.7,473.6 484.0,474.6 490.1,474.6 496.4,473.4 502.7,475.3 508.7,477.2 515.0,477.0 521.1,476.8 527.4,477.2 533.5,477.7 539.8,478.2 546.1,478.5 552.1,478.2 558.4,475.3 564.5,473.1 570.8,473.8 576.8,472.3 583.0,473.6 589.3,473.8 595.6,473.4 601.7,473.6 608.0,468.3 614.3,467.8 620.6,468.5 626.7,467.5 632.7,471.7 639.0,476.5 645.3,481.8 651.4,486.9 657.7,490.3 664.0,492.5 670.1,493.0 676.4,494.7 682.7,498.3 688.7,503.2 695.0,517.7 701.1,526.9" fill="none" stroke="#b84fd6" stroke-width="1.5" stroke-linejoin="round"/>
<line x1="3" y1="626.2" x2="784.6" y2="626.2" stroke="#666" stroke-width="1" stroke-dasharray="3,2.2"/>
<rect x="4.2" y="621.4" width="4.2" height="4.8" fill="#15a3a8"/>
<rect x="10.4" y="620.2" width="4.2" height="6.0" fill="#15a3a8"/>
<rect x="16.6" y="620.2" width="4.2" height="6.0" fill="#15a3a8"/>
<rect x="22.8" y="618.2" width="4.2" height="8.0" fill="#15a3a8"/>
<rect x="29.0" y="614.1" width="4.2" height="12.1" fill="#15a3a8"/>
<rect x="35.2" y="611.7" width="4.2" height="14.5" fill="#15a3a8"/>
<rect x="41.4" y="610.0" width="4.2" height="16.2" fill="#15a3a8"/>
<rect x="47.6" y="610.4" width="4.2" height="15.8" fill="#a9dfe0"/>
<rect x="53.8" y="612.9" width="4.2" height="13.3" fill="#a9dfe0"/>
<rect x="60.0" y="615.3" width="4.2" height="10.9" fill="#a9dfe0"/>
<rect x="66.2" y="618.2" width="4.2" height="8.0" fill="#a9dfe0"/>
<rect x="72.4" y="621.4" width="4.2" height="4.8" fill="#a9dfe0"/>
<rect x="78.6" y="625.5" width="4.2" height="0.7" fill="#15a3a8"/>
<rect x="84.8" y="624.5" width="4.2" height="1.7" fill="#15a3a8"/>
<rect x="91.0" y="623.8" width="4.2" height="2.4" fill="#15a3a8"/>
<rect x="97.2" y="625.0" width="4.2" height="1.2" fill="#a9dfe0"/>
<rect x="103.4" y="625.5" width="4.2" height="0.7" fill="#a9dfe0"/>
<rect x="109.6" y="624.5" width="4.2" height="1.7" fill="#15a3a8"/>
<rect x="115.9" y="625.5" width="4.2" height="0.7" fill="#a9dfe0"/>
<rect x="122.1" y="625.7" width="4.2" height="0.5" fill="#a9dfe0"/>
<rect x="128.3" y="625.5" width="4.2" height="0.7" fill="#15a3a8"/>
<rect x="134.5" y="625.5" width="4.2" height="0.7" fill="#15a3a8"/>
<rect x="140.7" y="624.3" width="4.2" height="1.9" fill="#15a3a8"/>
<rect x="146.9" y="622.6" width="4.2" height="3.6" fill="#15a3a8"/>
<rect x="153.1" y="622.1" width="4.2" height="4.1" fill="#15a3a8"/>
<rect x="159.3" y="623.8" width="4.2" height="2.4" fill="#a9dfe0"/>
<rect x="165.5" y="624.5" width="4.2" height="1.7" fill="#a9dfe0"/>
<rect x="171.7" y="625.5" width="4.2" height="0.7" fill="#a9dfe0"/>
<rect x="177.9" y="626.2" width="4.2" height="1.7" fill="#15a3a8"/>
<rect x="184.1" y="626.2" width="4.2" height="3.2" fill="#15a3a8"/>
<rect x="190.3" y="626.2" width="4.2" height="5.3" fill="#15a3a8"/>
<rect x="196.5" y="626.2" width="4.2" height="6.0" fill="#15a3a8"/>
<rect x="202.7" y="626.2" width="4.2" height="6.8" fill="#15a3a8"/>
<rect x="208.9" y="626.2" width="4.2" height="8.0" fill="#15a3a8"/>
<rect x="215.1" y="626.2" width="4.2" height="8.5" fill="#15a3a8"/>
<rect x="221.3" y="626.2" width="4.2" height="9.0" fill="#15a3a8"/>
<rect x="227.5" y="626.2" width="4.2" height="9.7" fill="#15a3a8"/>
<rect x="233.7" y="626.2" width="4.2" height="10.2" fill="#15a3a8"/>
<rect x="239.9" y="626.2" width="4.2" height="10.2" fill="#15a3a8"/>
<rect x="246.1" y="626.2" width="4.2" height="10.2" fill="#15a3a8"/>
<rect x="252.3" y="626.2" width="4.2" height="8.5" fill="#7c1414"/>
<rect x="258.5" y="626.2" width="4.2" height="6.0" fill="#7c1414"/>
<rect x="264.7" y="626.2" width="4.2" height="1.7" fill="#7c1414"/>
<rect x="270.9" y="624.3" width="4.2" height="1.9" fill="#15a3a8"/>
<rect x="277.1" y="620.9" width="4.2" height="5.3" fill="#15a3a8"/>
<rect x="283.3" y="617.2" width="4.2" height="9.0" fill="#15a3a8"/>
<rect x="289.5" y="615.3" width="4.2" height="10.9" fill="#15a3a8"/>
<rect x="295.7" y="614.1" width="4.2" height="12.1" fill="#15a3a8"/>
<rect x="301.9" y="617.0" width="4.2" height="9.2" fill="#a9dfe0"/>
<rect x="308.1" y="618.9" width="4.2" height="7.3" fill="#a9dfe0"/>
<rect x="314.3" y="619.4" width="4.2" height="6.8" fill="#a9dfe0"/>
<rect x="320.6" y="618.4" width="4.2" height="7.8" fill="#15a3a8"/>
<rect x="326.8" y="618.4" width="4.2" height="7.8" fill="#15a3a8"/>
<rect x="333.0" y="619.4" width="4.2" height="6.8" fill="#a9dfe0"/>
<rect x="339.2" y="621.4" width="4.2" height="4.8" fill="#a9dfe0"/>
<rect x="345.4" y="624.5" width="4.2" height="1.7" fill="#a9dfe0"/>
<rect x="351.6" y="625.9" width="4.2" height="0.3" fill="#a9dfe0"/>
<rect x="357.8" y="626.2" width="4.2" height="5.3" fill="#15a3a8"/>
<rect x="364.0" y="626.2" width="4.2" height="12.6" fill="#15a3a8"/>
<rect x="370.2" y="626.2" width="4.2" height="18.2" fill="#15a3a8"/>
<rect x="376.4" y="626.2" width="4.2" height="20.6" fill="#15a3a8"/>
<rect x="382.6" y="626.2" width="4.2" height="21.3" fill="#15a3a8"/>
<rect x="388.8" y="626.2" width="4.2" height="22.3" fill="#15a3a8"/>
<rect x="395.0" y="626.2" width="4.2" height="21.1" fill="#7c1414"/>
<rect x="401.2" y="626.2" width="4.2" height="21.8" fill="#15a3a8"/>
<rect x="407.4" y="626.2" width="4.2" height="21.1" fill="#7c1414"/>
<rect x="413.6" y="626.2" width="4.2" height="18.9" fill="#7c1414"/>
<rect x="419.8" y="626.2" width="4.2" height="17.0" fill="#7c1414"/>
<rect x="426.0" y="626.2" width="4.2" height="15.3" fill="#7c1414"/>
<rect x="432.2" y="626.2" width="4.2" height="8.5" fill="#7c1414"/>
<rect x="438.4" y="623.0" width="4.2" height="3.2" fill="#15a3a8"/>
<rect x="444.6" y="612.9" width="4.2" height="13.3" fill="#15a3a8"/>
<rect x="450.8" y="606.1" width="4.2" height="20.1" fill="#15a3a8"/>
<rect x="457.0" y="602.0" width="4.2" height="24.2" fill="#15a3a8"/>
<rect x="463.2" y="600.0" width="4.2" height="26.2" fill="#15a3a8"/>
<rect x="469.4" y="602.4" width="4.2" height="23.8" fill="#a9dfe0"/>
<rect x="475.6" y="605.6" width="4.2" height="20.6" fill="#a9dfe0"/>
<rect x="481.8" y="609.7" width="4.2" height="16.5" fill="#a9dfe0"/>
<rect x="488.0" y="614.1" width="4.2" height="12.1" fill="#a9dfe0"/>
<rect x="494.2" y="615.3" width="4.2" height="10.9" fill="#a9dfe0"/>
<rect x="500.4" y="617.2" width="4.2" height="9.0" fill="#a9dfe0"/>
<rect x="506.6" y="618.9" width="4.2" height="7.3" fill="#a9dfe0"/>
<rect x="512.8" y="621.4" width="4.2" height="4.8" fill="#a9dfe0"/>
<rect x="519.0" y="625.5" width="4.2" height="0.7" fill="#a9dfe0"/>
<rect x="525.2" y="626.2" width="4.2" height="3.2" fill="#15a3a8"/>
<rect x="531.5" y="626.2" width="4.2" height="7.8" fill="#15a3a8"/>
<rect x="537.7" y="626.2" width="4.2" height="11.4" fill="#15a3a8"/>
<rect x="543.9" y="626.2" width="4.2" height="12.6" fill="#15a3a8"/>
<rect x="550.1" y="626.2" width="4.2" height="11.6" fill="#7c1414"/>
<rect x="556.3" y="626.2" width="4.2" height="8.5" fill="#7c1414"/>
<rect x="562.5" y="626.2" width="4.2" height="5.6" fill="#7c1414"/>
<rect x="568.7" y="626.2" width="4.2" height="4.1" fill="#7c1414"/>
<rect x="574.9" y="626.2" width="4.2" height="1.7" fill="#7c1414"/>
<rect x="581.1" y="625.5" width="4.2" height="0.7" fill="#15a3a8"/>
<rect x="587.3" y="625.0" width="4.2" height="1.2" fill="#15a3a8"/>
<rect x="593.5" y="624.3" width="4.2" height="1.9" fill="#15a3a8"/>
<rect x="599.7" y="623.8" width="4.2" height="2.4" fill="#15a3a8"/>
<rect x="605.9" y="620.2" width="4.2" height="6.0" fill="#15a3a8"/>
<rect x="612.1" y="618.4" width="4.2" height="7.8" fill="#15a3a8"/>
<rect x="618.3" y="617.2" width="4.2" height="9.0" fill="#15a3a8"/>
<rect x="624.5" y="614.1" width="4.2" height="12.1" fill="#15a3a8"/>
<rect x="630.7" y="613.4" width="4.2" height="12.8" fill="#15a3a8"/>
<rect x="636.9" y="613.6" width="4.2" height="12.6" fill="#a9dfe0"/>
<rect x="643.1" y="613.4" width="4.2" height="12.8" fill="#15a3a8"/>
<rect x="649.3" y="614.1" width="4.2" height="12.1" fill="#a9dfe0"/>
<rect x="655.5" y="614.1" width="4.2" height="12.1" fill="#15a3a8"/>
<rect x="661.7" y="614.1" width="4.2" height="12.1" fill="#15a3a8"/>
<rect x="667.9" y="614.1" width="4.2" height="12.1" fill="#a9dfe0"/>
<rect x="674.1" y="612.9" width="4.2" height="13.3" fill="#15a3a8"/>
<rect x="680.3" y="615.3" width="4.2" height="10.9" fill="#a9dfe0"/>
<rect x="686.5" y="617.7" width="4.2" height="8.5" fill="#a9dfe0"/>
<rect x="692.7" y="620.2" width="4.2" height="6.0" fill="#a9dfe0"/>
<rect x="698.9" y="625.0" width="4.2" height="1.2" fill="#a9dfe0"/>
<rect x="705.1" y="626.2" width="4.2" height="3.6" fill="#15a3a8"/>
<polyline points="3.2,641.5 9.7,639.1 18.7,637.2 25.0,633.5 31.0,626.2 37.3,620.2 43.6,615.8 49.7,613.4 56.0,612.9 62.3,612.2 68.6,612.2 74.7,612.9 80.7,614.6 86.8,612.2 92.8,610.5 99.4,610.5 105.5,610.5 111.5,609.3 118.1,610.0 124.1,611.2 130.4,610.5 136.5,610.0 143.0,606.8 149.1,604.9 155.2,604.4 161.2,604.9 167.3,604.9 173.3,606.4 179.9,609.3 185.9,611.2 192.2,612.9 198.5,614.8 210.8,620.2 223.2,625.0 235.6,629.9 248.2,633.5 254.2,634.2 260.5,634.0 266.6,630.6 272.9,626.2 279.2,622.1 285.3,617.8 291.6,614.8 297.9,613.4 303.9,612.9 310.2,612.9 316.3,610.5 322.6,607.3 328.9,605.2 335.0,604.2 341.3,604.9 347.6,606.4 353.6,608.1 359.9,614.1 366.0,622.6 372.3,631.1 378.4,635.9 384.7,640.1 390.9,644.4 397.0,649.3 403.3,655.3 409.6,660.2 415.6,663.3 421.9,666.2 428.0,668.7 434.3,665.0 440.6,654.1 446.7,643.2 453.0,634.7 459.0,627.5 465.3,622.6 471.4,620.9 477.7,619.5 484.0,618.2 490.1,617.3 496.4,614.1 502.7,611.7 508.7,611.0 515.0,611.0 521.1,613.6 527.4,617.8 533.5,622.1 539.8,627.0 546.1,627.9 552.1,627.9 558.4,627.5 564.5,627.6 570.7,629.4 577.0,628.2 583.0,627.0 595.6,624.5 608.0,620.2 614.3,616.5 620.6,611.7 626.7,608.1 632.7,605.6 639.0,603.2 645.3,600.3 651.4,598.4 657.7,594.7 664.0,591.6 670.1,588.7 676.4,584.3 682.7,583.6 688.7,583.6 695.0,584.3 701.1,587.5 707.4,591.6" fill="none" stroke="#808080" stroke-width="1.4" stroke-linejoin="round"/>
<polyline points="3.2,645.2 12.6,644.4 25.0,641.5 37.3,634.7 49.7,627.5 62.3,621.4 74.7,616.5 86.8,613.4 99.4,612.2 111.5,611.7 124.1,611.2 136.5,610.5 149.1,609.3 161.2,608.1 173.3,606.8 185.9,606.8 194.0,607.6 202.1,609.3 214.2,612.9 226.4,617.0 238.5,621.4 248.2,625.0 260.3,628.2 272.9,629.9 285.3,629.2 297.9,625.5 310.2,620.2 322.6,614.8 335.0,610.5 347.6,608.1 359.9,608.1 366.0,609.3 372.3,611.7 378.4,615.3 384.7,619.0 390.0,622.6 397.0,629.9 409.6,642.0 421.9,651.7 434.3,657.8 446.7,659.0 459.0,655.3 471.4,647.3 484.0,635.9 496.4,625.0 508.7,618.2 521.1,615.3 533.5,614.8 546.1,618.2 558.4,622.6 570.7,626.2 583.0,628.7 595.6,629.2 608.0,627.0 620.6,623.8 632.7,620.2 645.3,614.1 657.7,606.8 670.1,599.6 682.7,593.5 695.0,589.4 707.4,587.7" fill="none" stroke="#9b30f0" stroke-width="1.6" stroke-linejoin="round"/>
<line x1="3" y1="705.4" x2="784.6" y2="705.4" stroke="#3f66e8" stroke-width="1.2"/>
<line x1="3" y1="780.5" x2="784.6" y2="780.5" stroke="#f5515f" stroke-width="1.2"/>
<line x1="3" y1="743.1" x2="784.6" y2="743.1" stroke="#7a7a7a" stroke-width="1" stroke-dasharray="4.2,1.5,1,1.5"/>
<defs><clipPath id="ob"><rect x="0" y="680" width="825" height="25.4"/></clipPath><clipPath id="os"><rect x="0" y="780.5" width="825" height="14"/></clipPath></defs>
<polyline points="3.2,734.2 6.3,731.3 12.5,750.7 18.7,749.5 24.9,729.6 31.1,727.2 37.3,737.4 43.5,731.8 49.7,733.3 55.9,743.9 62.1,738.1 68.3,750.2 74.5,742.2 80.7,735.0 86.9,721.6 93.1,725.8 99.3,722.8 105.5,716.8 111.7,718.0 118.0,725.3 124.2,728.2 130.4,727.2 136.6,730.1 142.8,722.8 149.0,724.1 155.2,722.1 161.4,714.8 167.6,722.8 173.8,716.3 180.0,726.5 186.2,736.2 192.4,750.2 198.6,743.0 204.8,749.5 211.0,758.7 217.2,745.9 223.4,743.9 229.6,732.5 235.8,729.6 242.0,738.6 248.2,743.5 254.4,735.0 260.6,726.5 266.8,719.7 273.0,718.0 279.2,720.4 285.4,714.8 291.6,726.5 297.8,730.8 304.0,739.3 310.2,740.5 316.4,728.9 322.7,728.2 328.9,716.8 335.1,722.1 341.3,726.5 347.5,731.8 353.7,727.2 359.9,764.1 366.1,784.7 372.3,779.8 378.5,778.6 384.7,768.2 390.9,763.3 397.1,749.0 403.3,746.4 409.5,744.7 415.7,736.9 421.9,743.5 428.1,742.2 434.3,737.9 440.5,730.1 446.7,730.8 452.9,738.6 459.1,738.6 465.3,735.0 471.5,745.9 477.7,750.7 483.9,753.9 490.1,750.0 496.3,736.7 502.5,745.9 508.7,747.8 514.9,743.5 521.1,747.8 527.3,740.3 533.6,750.0 539.8,745.9 546.0,750.7 552.2,748.3 558.4,737.4 564.6,730.1 570.8,737.4 577.0,732.5 583.2,737.4 589.4,740.3 595.6,736.2 601.8,742.7 608.0,719.9 614.2,721.2 620.4,721.2 626.6,708.3 632.8,705.4 639.0,699.3 645.2,703.0 651.4,711.2 657.6,710.7 663.8,710.0 670.0,709.0 676.2,701.5 682.4,708.3 688.6,727.0 694.8,724.5 701.0,733.8 707.2,730.6" fill="none" stroke="#14b04e" stroke-width="1.7" stroke-linejoin="round"/>
<g clip-path="url(#ob)"><polygon points="3.2,734.2 6.3,731.3 12.5,750.7 18.7,749.5 24.9,729.6 31.1,727.2 37.3,737.4 43.5,731.8 49.7,733.3 55.9,743.9 62.1,738.1 68.3,750.2 74.5,742.2 80.7,735.0 86.9,721.6 93.1,725.8 99.3,722.8 105.5,716.8 111.7,718.0 118.0,725.3 124.2,728.2 130.4,727.2 136.6,730.1 142.8,722.8 149.0,724.1 155.2,722.1 161.4,714.8 167.6,722.8 173.8,716.3 180.0,726.5 186.2,736.2 192.4,750.2 198.6,743.0 204.8,749.5 211.0,758.7 217.2,745.9 223.4,743.9 229.6,732.5 235.8,729.6 242.0,738.6 248.2,743.5 254.4,735.0 260.6,726.5 266.8,719.7 273.0,718.0 279.2,720.4 285.4,714.8 291.6,726.5 297.8,730.8 304.0,739.3 310.2,740.5 316.4,728.9 322.7,728.2 328.9,716.8 335.1,722.1 341.3,726.5 347.5,731.8 353.7,727.2 359.9,764.1 366.1,784.7 372.3,779.8 378.5,778.6 384.7,768.2 390.9,763.3 397.1,749.0 403.3,746.4 409.5,744.7 415.7,736.9 421.9,743.5 428.1,742.2 434.3,737.9 440.5,730.1 446.7,730.8 452.9,738.6 459.1,738.6 465.3,735.0 471.5,745.9 477.7,750.7 483.9,753.9 490.1,750.0 496.3,736.7 502.5,745.9 508.7,747.8 514.9,743.5 521.1,747.8 527.3,740.3 533.6,750.0 539.8,745.9 546.0,750.7 552.2,748.3 558.4,737.4 564.6,730.1 570.8,737.4 577.0,732.5 583.2,737.4 589.4,740.3 595.6,736.2 601.8,742.7 608.0,719.9 614.2,721.2 620.4,721.2 626.6,708.3 632.8,705.4 639.0,699.3 645.2,703.0 651.4,711.2 657.6,710.7 663.8,710.0 670.0,709.0 676.2,701.5 682.4,708.3 688.6,727.0 694.8,724.5 701.0,733.8 707.2,730.6 707.2,705.4 3.2,705.4" fill="#4a6cf0" fill-opacity="0.38"/><polyline points="3.2,734.2 6.3,731.3 12.5,750.7 18.7,749.5 24.9,729.6 31.1,727.2 37.3,737.4 43.5,731.8 49.7,733.3 55.9,743.9 62.1,738.1 68.3,750.2 74.5,742.2 80.7,735.0 86.9,721.6 93.1,725.8 99.3,722.8 105.5,716.8 111.7,718.0 118.0,725.3 124.2,728.2 130.4,727.2 136.6,730.1 142.8,722.8 149.0,724.1 155.2,722.1 161.4,714.8 167.6,722.8 173.8,716.3 180.0,726.5 186.2,736.2 192.4,750.2 198.6,743.0 204.8,749.5 211.0,758.7 217.2,745.9 223.4,743.9 229.6,732.5 235.8,729.6 242.0,738.6 248.2,743.5 254.4,735.0 260.6,726.5 266.8,719.7 273.0,718.0 279.2,720.4 285.4,714.8 291.6,726.5 297.8,730.8 304.0,739.3 310.2,740.5 316.4,728.9 322.7,728.2 328.9,716.8 335.1,722.1 341.3,726.5 347.5,731.8 353.7,727.2 359.9,764.1 366.1,784.7 372.3,779.8 378.5,778.6 384.7,768.2 390.9,763.3 397.1,749.0 403.3,746.4 409.5,744.7 415.7,736.9 421.9,743.5 428.1,742.2 434.3,737.9 440.5,730.1 446.7,730.8 452.9,738.6 459.1,738.6 465.3,735.0 471.5,745.9 477.7,750.7 483.9,753.9 490.1,750.0 496.3,736.7 502.5,745.9 508.7,747.8 514.9,743.5 521.1,747.8 527.3,740.3 533.6,750.0 539.8,745.9 546.0,750.7 552.2,748.3 558.4,737.4 564.6,730.1 570.8,737.4 577.0,732.5 583.2,737.4 589.4,740.3 595.6,736.2 601.8,742.7 608.0,719.9 614.2,721.2 620.4,721.2 626.6,708.3 632.8,705.4 639.0,699.3 645.2,703.0 651.4,711.2 657.6,710.7 663.8,710.0 670.0,709.0 676.2,701.5 682.4,708.3 688.6,727.0 694.8,724.5 701.0,733.8 707.2,730.6" fill="none" stroke="#3f5fe8" stroke-width="1.7"/></g>
<g clip-path="url(#os)"><polygon points="3.2,734.2 6.3,731.3 12.5,750.7 18.7,749.5 24.9,729.6 31.1,727.2 37.3,737.4 43.5,731.8 49.7,733.3 55.9,743.9 62.1,738.1 68.3,750.2 74.5,742.2 80.7,735.0 86.9,721.6 93.1,725.8 99.3,722.8 105.5,716.8 111.7,718.0 118.0,725.3 124.2,728.2 130.4,727.2 136.6,730.1 142.8,722.8 149.0,724.1 155.2,722.1 161.4,714.8 167.6,722.8 173.8,716.3 180.0,726.5 186.2,736.2 192.4,750.2 198.6,743.0 204.8,749.5 211.0,758.7 217.2,745.9 223.4,743.9 229.6,732.5 235.8,729.6 242.0,738.6 248.2,743.5 254.4,735.0 260.6,726.5 266.8,719.7 273.0,718.0 279.2,720.4 285.4,714.8 291.6,726.5 297.8,730.8 304.0,739.3 310.2,740.5 316.4,728.9 322.7,728.2 328.9,716.8 335.1,722.1 341.3,726.5 347.5,731.8 353.7,727.2 359.9,764.1 366.1,784.7 372.3,779.8 378.5,778.6 384.7,768.2 390.9,763.3 397.1,749.0 403.3,746.4 409.5,744.7 415.7,736.9 421.9,743.5 428.1,742.2 434.3,737.9 440.5,730.1 446.7,730.8 452.9,738.6 459.1,738.6 465.3,735.0 471.5,745.9 477.7,750.7 483.9,753.9 490.1,750.0 496.3,736.7 502.5,745.9 508.7,747.8 514.9,743.5 521.1,747.8 527.3,740.3 533.6,750.0 539.8,745.9 546.0,750.7 552.2,748.3 558.4,737.4 564.6,730.1 570.8,737.4 577.0,732.5 583.2,737.4 589.4,740.3 595.6,736.2 601.8,742.7 608.0,719.9 614.2,721.2 620.4,721.2 626.6,708.3 632.8,705.4 639.0,699.3 645.2,703.0 651.4,711.2 657.6,710.7 663.8,710.0 670.0,709.0 676.2,701.5 682.4,708.3 688.6,727.0 694.8,724.5 701.0,733.8 707.2,730.6 707.2,780.5 3.2,780.5" fill="#f33" fill-opacity="0.5"/><polyline points="3.2,734.2 6.3,731.3 12.5,750.7 18.7,749.5 24.9,729.6 31.1,727.2 37.3,737.4 43.5,731.8 49.7,733.3 55.9,743.9 62.1,738.1 68.3,750.2 74.5,742.2 80.7,735.0 86.9,721.6 93.1,725.8 99.3,722.8 105.5,716.8 111.7,718.0 118.0,725.3 124.2,728.2 130.4,727.2 136.6,730.1 142.8,722.8 149.0,724.1 155.2,722.1 161.4,714.8 167.6,722.8 173.8,716.3 180.0,726.5 186.2,736.2 192.4,750.2 198.6,743.0 204.8,749.5 211.0,758.7 217.2,745.9 223.4,743.9 229.6,732.5 235.8,729.6 242.0,738.6 248.2,743.5 254.4,735.0 260.6,726.5 266.8,719.7 273.0,718.0 279.2,720.4 285.4,714.8 291.6,726.5 297.8,730.8 304.0,739.3 310.2,740.5 316.4,728.9 322.7,728.2 328.9,716.8 335.1,722.1 341.3,726.5 347.5,731.8 353.7,727.2 359.9,764.1 366.1,784.7 372.3,779.8 378.5,778.6 384.7,768.2 390.9,763.3 397.1,749.0 403.3,746.4 409.5,744.7 415.7,736.9 421.9,743.5 428.1,742.2 434.3,737.9 440.5,730.1 446.7,730.8 452.9,738.6 459.1,738.6 465.3,735.0 471.5,745.9 477.7,750.7 483.9,753.9 490.1,750.0 496.3,736.7 502.5,745.9 508.7,747.8 514.9,743.5 521.1,747.8 527.3,740.3 533.6,750.0 539.8,745.9 546.0,750.7 552.2,748.3 558.4,737.4 564.6,730.1 570.8,737.4 577.0,732.5 583.2,737.4 589.4,740.3 595.6,736.2 601.8,742.7 608.0,719.9 614.2,721.2 620.4,721.2 626.6,708.3 632.8,705.4 639.0,699.3 645.2,703.0 651.4,711.2 657.6,710.7 663.8,710.0 670.0,709.0 676.2,701.5 682.4,708.3 688.6,727.0 694.8,724.5 701.0,733.8 707.2,730.6" fill="none" stroke="#f03030" stroke-width="1.7"/></g>
<polyline points="3.2,743.0 6.3,739.8 12.5,741.0 18.7,742.2 24.9,739.3 31.1,737.4 37.3,738.6 43.5,735.0 49.7,731.8 55.9,734.2 62.1,737.4 68.3,740.5 74.5,742.2 80.7,742.2 86.9,737.4 93.1,735.0 99.3,730.1 105.5,724.5 111.7,721.6 118.0,721.6 124.2,722.4 130.4,723.3 136.6,725.8 142.8,727.2 149.0,727.0 155.2,725.8 161.4,723.6 167.6,722.4 173.8,720.4 180.0,720.9 186.2,723.3 192.4,729.5 198.6,735.0 204.8,742.2 211.0,748.3 217.2,750.0 223.4,748.3 229.6,745.9 235.8,741.5 242.0,738.1 248.2,737.4 254.4,736.2 260.6,734.5 266.8,732.1 273.0,728.2 279.2,723.3 285.4,719.7 291.6,719.9 297.8,722.4 304.0,726.5 310.2,730.8 316.4,733.3 322.7,733.8 328.9,731.3 335.1,727.7 341.3,724.8 347.5,725.3 353.7,725.3 359.9,735.0 366.1,748.3 372.3,760.4 378.5,770.1 384.7,775.5 390.9,775.0 397.1,767.7 403.3,760.9 409.5,754.4 415.7,748.3 421.9,743.9 428.1,742.2 434.3,739.8 440.5,737.4 446.7,736.7 452.9,735.7 459.1,735.0 465.3,734.5 471.5,738.1 477.7,742.2 483.9,745.4 490.1,747.6 496.3,747.8 502.5,747.6 508.7,746.6 514.9,744.2 521.1,743.9 527.3,744.7 533.6,745.2 539.8,745.4 546.0,746.6 552.2,747.6 558.4,745.9 564.6,743.0 570.8,741.0 577.0,737.4 583.2,735.0 589.4,735.5 595.6,736.2 601.8,737.4 608.0,735.7 614.2,732.5 620.4,728.4 626.6,722.4 632.8,715.6 639.0,711.2 645.2,707.6 651.4,705.9 657.6,706.4 663.8,707.6 670.0,708.8 676.2,708.3 682.4,707.6 688.6,710.7 694.8,713.9 701.0,718.7 707.2,724.1" fill="none" stroke="#f4874b" stroke-width="1.6" stroke-linejoin="round"/>
</g>
<g fill="none" stroke="#adadad" stroke-width="3"><path d="M7.6 423.6V439.75M33.45 428.6V439.75M33.45 435A5 5 0 0 1 38.9 430M28.4 428.6V439.75M54.9 423.6V439.75M54.9 434.5A3.75 4.5 0 0 1 62.4 434.5V439.75M75.8 428.6V439.75M80.85 428.6V439.75M80.85 435A5 5 0 0 1 85.6 430M87.3 424.1V439.75M84.3 430H90.4M49.42 431.91A4.2 4.2 0 1 0 49.42 436.49"/><circle cx="12.4" cy="434.2" r="4.2"/><circle cx="24.2" cy="434.2" r="4.2"/><circle cx="71.3" cy="434.2" r="4.2"/></g>
<text x="686.2" y="76.0" font-size="9.5" fill="#8a8a8a" stroke="#8a8a8a" stroke-width="0.08" textLength="51.0" lengthAdjust="spacingAndGlyphs">0.0% (37.424)</text>
<text x="686.2" y="154.5" font-size="9.5" fill="#8a8a8a" stroke="#8a8a8a" stroke-width="0.08" textLength="56.2" lengthAdjust="spacingAndGlyphs">23.6% (35.159)</text>
<text x="686.2" y="203.2" font-size="9.5" fill="#8a8a8a" stroke="#8a8a8a" stroke-width="0.08" textLength="56.2" lengthAdjust="spacingAndGlyphs">38.2% (33.757)</text>
<text x="686.2" y="242.5" font-size="9.5" fill="#8a8a8a" stroke="#8a8a8a" stroke-width="0.08" textLength="56.2" lengthAdjust="spacingAndGlyphs">50.0% (32.625)</text>
<text x="686.2" y="281.8" font-size="9.5" fill="#8a8a8a" stroke="#8a8a8a" stroke-width="0.08" textLength="56.2" lengthAdjust="spacingAndGlyphs">61.8% (31.492)</text>
<text x="686.2" y="337.7" font-size="9.5" fill="#8a8a8a" stroke="#8a8a8a" stroke-width="0.08" textLength="56.2" lengthAdjust="spacingAndGlyphs">78.6% (29.879)</text>
<text x="686.2" y="408.9" font-size="9.5" fill="#8a8a8a" stroke="#8a8a8a" stroke-width="0.08" textLength="60.2" lengthAdjust="spacingAndGlyphs">100.0% (27.825)</text>
<text x="6.5" y="14.9" font-size="11.4" fill="#1a1a1a" stroke="#1a1a1a" stroke-width="0.14" textLength="52.4" lengthAdjust="spacingAndGlyphs">06/25/2025</text>
<text x="63.0" y="14.9" font-size="11.4" fill="#1a1a1a" stroke="#1a1a1a" stroke-width="0.14" textLength="23.0" lengthAdjust="spacingAndGlyphs">Silver</text>
<text x="90.2" y="14.9" font-size="11.4" fill="#1a1a1a" stroke="#1a1a1a" stroke-width="0.14" textLength="34.2" lengthAdjust="spacingAndGlyphs">(SIN25)</text>
<text x="127.3" y="14.9" font-size="11.4" fill="#1a1a1a" stroke="#1a1a1a" stroke-width="0.14" textLength="40.0" lengthAdjust="spacingAndGlyphs">[COMEX]</text>
<text x="171.6" y="14.9" font-size="11.4" fill="#1a1a1a" stroke="#1a1a1a" stroke-width="0.14" textLength="6.7" lengthAdjust="spacingAndGlyphs">O</text>
<text x="180.0" y="14.9" font-size="11.4" fill="#666" stroke="#666" stroke-width="0.14" textLength="30.0" lengthAdjust="spacingAndGlyphs">35.860</text>
<text x="214.3" y="14.9" font-size="11.4" fill="#1a1a1a" stroke="#1a1a1a" stroke-width="0.14" textLength="6.3" lengthAdjust="spacingAndGlyphs">H</text>
<text x="221.8" y="14.9" font-size="11.4" fill="#666" stroke="#666" stroke-width="0.14" textLength="30.0" lengthAdjust="spacingAndGlyphs">35.945</text>
<text x="256.4" y="14.9" font-size="11.4" fill="#1a1a1a" stroke="#1a1a1a" stroke-width="0.14" textLength="4.4" lengthAdjust="spacingAndGlyphs">L</text>
<text x="262.0" y="14.9" font-size="11.4" fill="#666" stroke="#666" stroke-width="0.14" textLength="30.4" lengthAdjust="spacingAndGlyphs">35.855</text>
<text x="296.7" y="14.9" font-size="11.4" fill="#1a1a1a" stroke="#1a1a1a" stroke-width="0.14" textLength="6.3" lengthAdjust="spacingAndGlyphs">C</text>
<text x="304.3" y="14.9" font-size="11.4" fill="#666" stroke="#666" stroke-width="0.14" textLength="29.9" lengthAdjust="spacingAndGlyphs">35.935</text>
<text x="338.2" y="14.9" font-size="11.4" fill="#1a1a1a" stroke="#1a1a1a" stroke-width="0.14" textLength="6.6" lengthAdjust="spacingAndGlyphs">&#916;</text>
<text x="345.8" y="14.9" font-size="11.4" fill="#555" stroke="#555" stroke-width="0.14" textLength="30.2" lengthAdjust="spacingAndGlyphs">+0.203</text>
<text x="379.2" y="14.9" font-size="11.4" fill="#555" stroke="#555" stroke-width="0.14" textLength="39.3" lengthAdjust="spacingAndGlyphs">(+0.57%)</text>
<text x="422.8" y="14.9" font-size="11.4" fill="#1a1a1a" stroke="#1a1a1a" stroke-width="0.14" textLength="40.5" lengthAdjust="spacingAndGlyphs">Bollinger</text>
<text x="467.0" y="14.9" font-size="11.4" fill="#1a1a1a" stroke="#1a1a1a" stroke-width="0.14" textLength="27.8" lengthAdjust="spacingAndGlyphs">Bands</text>
<text x="498.0" y="14.9" font-size="11.4" fill="#1a1a1a" stroke="#1a1a1a" stroke-width="0.14" textLength="17.5" lengthAdjust="spacingAndGlyphs">(20,</text>
<text x="519.6" y="14.9" font-size="11.4" fill="#1a1a1a" stroke="#1a1a1a" stroke-width="0.14" textLength="6.4" lengthAdjust="spacingAndGlyphs">2,</text>
<text x="529.3" y="14.9" font-size="11.4" fill="#1a1a1a" stroke="#1a1a1a" stroke-width="0.14" textLength="6.3" lengthAdjust="spacingAndGlyphs">0,</text>
<text x="540.5" y="14.9" font-size="11.4" fill="#1a1a1a" stroke="#1a1a1a" stroke-width="0.14" textLength="26.7" lengthAdjust="spacingAndGlyphs">Close)</text>
<text x="573.3" y="14.9" font-size="11.4" fill="#1a1a1a" stroke="#1a1a1a" stroke-width="0.14" textLength="16.6" lengthAdjust="spacingAndGlyphs">(20,</text>
<text x="594.1" y="14.9" font-size="11.4" fill="#1a1a1a" stroke="#1a1a1a" stroke-width="0.14" textLength="6.1" lengthAdjust="spacingAndGlyphs">2,</text>
<text x="603.7" y="14.9" font-size="11.4" fill="#1a1a1a" stroke="#1a1a1a" stroke-width="0.14" textLength="6.2" lengthAdjust="spacingAndGlyphs">0,</text>
<text x="614.7" y="14.9" font-size="11.4" fill="#1a1a1a" stroke="#1a1a1a" stroke-width="0.14" textLength="10.6" lengthAdjust="spacingAndGlyphs">...)</text>
<text x="629.3" y="14.9" font-size="11.4" fill="#8a7ad8" stroke="#8a7ad8" stroke-width="0.14" textLength="29.9" lengthAdjust="spacingAndGlyphs">38.054</text>
<text x="664.0" y="14.9" font-size="11.4" fill="#9c3a3a" stroke="#9c3a3a" stroke-width="0.14" textLength="29.9" lengthAdjust="spacingAndGlyphs">35.613</text>
<text x="697.9" y="14.9" font-size="11.4" fill="#22a8ac" stroke="#22a8ac" stroke-width="0.14" textLength="30.1" lengthAdjust="spacingAndGlyphs">33.172</text>
<text x="6.5" y="462.8" font-size="11.4" fill="#1a1a1a" stroke="#1a1a1a" stroke-width="0.14" textLength="34.2" lengthAdjust="spacingAndGlyphs">Volume</text>
<text x="44.4" y="462.8" font-size="11.4" fill="#1a1a1a" stroke="#1a1a1a" stroke-width="0.14" textLength="48.2" lengthAdjust="spacingAndGlyphs">(LikeMain)</text>
<text x="97.7" y="462.8" font-size="11.4" fill="#1a1a1a" stroke="#1a1a1a" stroke-width="0.14" textLength="47.8" lengthAdjust="spacingAndGlyphs">(LikeMain)</text>
<text x="148.4" y="462.8" font-size="11.4" fill="#1fae52" stroke="#1fae52" stroke-width="0.14" textLength="25.4" lengthAdjust="spacingAndGlyphs">3,757</text>
<text x="6.8" y="578.8" font-size="11.4" fill="#1a1a1a" stroke="#1a1a1a" stroke-width="0.14" textLength="27.1" lengthAdjust="spacingAndGlyphs">MACD</text>
<text x="38.0" y="578.8" font-size="11.4" fill="#1a1a1a" stroke="#1a1a1a" stroke-width="0.14" textLength="40.7" lengthAdjust="spacingAndGlyphs">Oscillator</text>
<text x="83.8" y="578.8" font-size="11.4" fill="#1a1a1a" stroke="#1a1a1a" stroke-width="0.14" textLength="17.0" lengthAdjust="spacingAndGlyphs">(12,</text>
<text x="104.5" y="578.8" font-size="11.4" fill="#1a1a1a" stroke="#1a1a1a" stroke-width="0.14" textLength="12.6" lengthAdjust="spacingAndGlyphs">26,</text>
<text x="121.2" y="578.8" font-size="11.4" fill="#1a1a1a" stroke="#1a1a1a" stroke-width="0.14" textLength="8.5" lengthAdjust="spacingAndGlyphs">9)</text>
<text x="134.8" y="578.8" font-size="11.4" fill="#1a1a1a" stroke="#1a1a1a" stroke-width="0.14" textLength="16.2" lengthAdjust="spacingAndGlyphs">(12,</text>
<text x="155.1" y="578.8" font-size="11.4" fill="#1a1a1a" stroke="#1a1a1a" stroke-width="0.14" textLength="12.2" lengthAdjust="spacingAndGlyphs">26,</text>
<text x="171.4" y="578.8" font-size="11.4" fill="#1a1a1a" stroke="#1a1a1a" stroke-width="0.14" textLength="7.8" lengthAdjust="spacingAndGlyphs">9)</text>
<text x="183.3" y="578.8" font-size="11.4" fill="#8c8c8c" stroke="#8c8c8c" stroke-width="0.14" textLength="24.4" lengthAdjust="spacingAndGlyphs">1.328</text>
<text x="212.1" y="578.8" font-size="11.4" fill="#9b30f0" stroke="#9b30f0" stroke-width="0.14" textLength="24.5" lengthAdjust="spacingAndGlyphs">1.463</text>
<text x="241.0" y="578.8" font-size="11.4" fill="#22a8ac" stroke="#22a8ac" stroke-width="0.14" textLength="27.1" lengthAdjust="spacingAndGlyphs">-0.136</text>
<text x="6.8" y="696.0" font-size="11.4" fill="#1a1a1a" stroke="#1a1a1a" stroke-width="0.14" textLength="35.7" lengthAdjust="spacingAndGlyphs">Relative</text>
<text x="45.8" y="696.0" font-size="11.4" fill="#1a1a1a" stroke="#1a1a1a" stroke-width="0.14" textLength="39.9" lengthAdjust="spacingAndGlyphs">Strength</text>
<text x="89.1" y="696.0" font-size="11.4" fill="#1a1a1a" stroke="#1a1a1a" stroke-width="0.14" textLength="23.6" lengthAdjust="spacingAndGlyphs">Index</text>
<text x="116.5" y="696.0" font-size="11.4" fill="#1a1a1a" stroke="#1a1a1a" stroke-width="0.14" textLength="21.8" lengthAdjust="spacingAndGlyphs">(RSI)</text>
<text x="141.7" y="696.0" font-size="11.4" fill="#1a1a1a" stroke="#1a1a1a" stroke-width="0.14" textLength="17.3" lengthAdjust="spacingAndGlyphs">(14,</text>
<text x="162.3" y="696.0" font-size="11.4" fill="#1a1a1a" stroke="#1a1a1a" stroke-width="0.14" textLength="15.1" lengthAdjust="spacingAndGlyphs">MA,</text>
<text x="181.5" y="696.0" font-size="11.4" fill="#1a1a1a" stroke="#1a1a1a" stroke-width="0.14" textLength="8.3" lengthAdjust="spacingAndGlyphs">5)</text>
<text x="195.4" y="696.0" font-size="11.4" fill="#1a1a1a" stroke="#1a1a1a" stroke-width="0.14" textLength="17.7" lengthAdjust="spacingAndGlyphs">(14,</text>
<text x="216.8" y="696.0" font-size="11.4" fill="#1a1a1a" stroke="#1a1a1a" stroke-width="0.14" textLength="15.1" lengthAdjust="spacingAndGlyphs">MA,</text>
<text x="236.0" y="696.0" font-size="11.4" fill="#1a1a1a" stroke="#1a1a1a" stroke-width="0.14" textLength="8.3" lengthAdjust="spacingAndGlyphs">5)</text>
<text x="248.0" y="696.0" font-size="11.4" fill="#1fae52" stroke="#1fae52" stroke-width="0.14" textLength="24.5" lengthAdjust="spacingAndGlyphs">56.62</text>
<text x="277.0" y="696.0" font-size="11.4" fill="#f4874b" stroke="#f4874b" stroke-width="0.14" textLength="24.4" lengthAdjust="spacingAndGlyphs">59.75</text>
<text x="792.7" y="28.6" font-size="10" fill="#666" stroke="#666" stroke-width="0.1" textLength="25.2" lengthAdjust="spacingAndGlyphs">39.000</text>
<text x="792.7" y="97.9" font-size="10" fill="#666" stroke="#666" stroke-width="0.1" textLength="25.2" lengthAdjust="spacingAndGlyphs">37.000</text>
<text x="792.7" y="167.3" font-size="10" fill="#666" stroke="#666" stroke-width="0.1" textLength="25.2" lengthAdjust="spacingAndGlyphs">35.000</text>
<text x="792.7" y="201.9" font-size="10" fill="#666" stroke="#666" stroke-width="0.1" textLength="25.2" lengthAdjust="spacingAndGlyphs">34.000</text>
<text x="792.7" y="271.3" font-size="10" fill="#666" stroke="#666" stroke-width="0.1" textLength="25.2" lengthAdjust="spacingAndGlyphs">32.000</text>
<text x="792.7" y="305.9" font-size="10" fill="#666" stroke="#666" stroke-width="0.1" textLength="25.2" lengthAdjust="spacingAndGlyphs">31.000</text>
<text x="792.7" y="340.6" font-size="10" fill="#666" stroke="#666" stroke-width="0.1" textLength="25.2" lengthAdjust="spacingAndGlyphs">30.000</text>
<text x="792.7" y="375.3" font-size="10" fill="#666" stroke="#666" stroke-width="0.1" textLength="25.2" lengthAdjust="spacingAndGlyphs">29.000</text>
<text x="792.7" y="409.9" font-size="10" fill="#666" stroke="#666" stroke-width="0.1" textLength="25.2" lengthAdjust="spacingAndGlyphs">28.000</text>
<text x="792.7" y="444.6" font-size="10" fill="#666" stroke="#666" stroke-width="0.1" textLength="25.2" lengthAdjust="spacingAndGlyphs">27.000</text>
<text x="792.7" y="485.0" font-size="10" fill="#666" stroke="#666" stroke-width="0.1" textLength="19.4" lengthAdjust="spacingAndGlyphs">100K</text>
<text x="792.7" y="523.3" font-size="10" fill="#666" stroke="#666" stroke-width="0.1" textLength="15.0" lengthAdjust="spacingAndGlyphs">50K</text>
<text x="792.7" y="577.6" font-size="10" fill="#666" stroke="#666" stroke-width="0.1" textLength="21.0" lengthAdjust="spacingAndGlyphs">2.000</text>
<text x="792.7" y="603.9" font-size="10" fill="#666" stroke="#666" stroke-width="0.1" textLength="21.0" lengthAdjust="spacingAndGlyphs">1.000</text>
<text x="792.7" y="656.6" font-size="10" fill="#666" stroke="#666" stroke-width="0.1" textLength="23.6" lengthAdjust="spacingAndGlyphs">-1.000</text>
<text x="792.7" y="690.1" font-size="10" fill="#666" stroke="#666" stroke-width="0.1" textLength="20.8" lengthAdjust="spacingAndGlyphs">80.00</text>
<text x="792.7" y="727.2" font-size="10" fill="#666" stroke="#666" stroke-width="0.1" textLength="20.8" lengthAdjust="spacingAndGlyphs">60.00</text>
<text x="792.7" y="765.2" font-size="10" fill="#666" stroke="#666" stroke-width="0.1" textLength="20.8" lengthAdjust="spacingAndGlyphs">40.00</text>
<rect x="784.8" y="50.6" width="36.4" height="15.2" fill="#8b76d6"/>
<text x="792.2" y="61.8" font-size="10" fill="#fff" textLength="25.3" lengthAdjust="spacingAndGlyphs" font-weight="bold">38.054</text>
<rect x="784.8" y="138.5" width="36.4" height="11.5" fill="#8a2c2c"/>
<text x="792.2" y="147.8" font-size="10" fill="#fff" textLength="25.3" lengthAdjust="spacingAndGlyphs" font-weight="bold">35.613</text>
<rect x="784.8" y="125" width="36.4" height="13.6" fill="#000"/>
<text x="792.2" y="135.4" font-size="10" fill="#fff" textLength="25.3" lengthAdjust="spacingAndGlyphs" font-weight="bold">35.935</text>
<rect x="784.8" y="219.2" width="36.4" height="15.3" fill="#16a5a8"/>
<text x="792.2" y="230.4" font-size="10" fill="#fff" textLength="25.3" lengthAdjust="spacingAndGlyphs" font-weight="bold">33.172</text>
<rect x="784.8" y="520" width="25.4" height="14.6" fill="#bd4fd6"/>
<text x="792.2" y="530.9" font-size="10" fill="#fff" textLength="14.5" lengthAdjust="spacingAndGlyphs" font-weight="bold">40K</text>
<rect x="784.8" y="547" width="20.8" height="14.0" fill="#16b04c"/>
<text x="792.2" y="557.6" font-size="10" fill="#fff" textLength="9.8" lengthAdjust="spacingAndGlyphs" font-weight="bold">4K</text>
<rect x="784.8" y="580" width="31.6" height="12.0" fill="#9b30f0"/>
<rect x="784.8" y="583.7" width="31.6" height="14.8" fill="#808080"/>
<text x="792.2" y="594.7" font-size="10" fill="#fff" textLength="21.0" lengthAdjust="spacingAndGlyphs" font-weight="bold">1.328</text>
<rect x="784.8" y="622" width="34.7" height="15.0" fill="#16a5a8"/>
<text x="792.2" y="633.1" font-size="10" fill="#fff" textLength="23.8" lengthAdjust="spacingAndGlyphs" font-weight="bold">-0.136</text>
<rect x="784.8" y="717.2" width="31.6" height="13.8" fill="#f4874b"/>
<text x="792.2" y="727.7" font-size="10" fill="#222" textLength="20.8" lengthAdjust="spacingAndGlyphs" font-weight="bold">59.75</text>
<rect x="784.8" y="723" width="31.6" height="15.2" fill="#16b04c"/>
<text x="792.2" y="734.2" font-size="10" fill="#fff" textLength="20.8" lengthAdjust="spacingAndGlyphs" font-weight="bold">56.62</text>
<g clip-path="url(#cp)">
<text x="3.6" y="807.4" font-size="9.2" fill="#7d7d7d" textLength="20.6" lengthAdjust="spacingAndGlyphs">an 13</text>
<text x="56.5" y="807.4" font-size="9.2" fill="#7d7d7d" textLength="23.9" lengthAdjust="spacingAndGlyphs">Jan 27</text>
<text x="117.7" y="807.4" font-size="9.2" fill="#7d7d7d" textLength="25.3" lengthAdjust="spacingAndGlyphs">Feb 10</text>
<text x="173.8" y="807.4" font-size="9.2" fill="#7d7d7d" textLength="25.5" lengthAdjust="spacingAndGlyphs">Feb 24</text>
<text x="234.7" y="807.4" font-size="9.2" fill="#7d7d7d" textLength="27.2" lengthAdjust="spacingAndGlyphs">Mar 10</text>
<text x="297.0" y="807.4" font-size="9.2" fill="#7d7d7d" textLength="26.7" lengthAdjust="spacingAndGlyphs">Mar 24</text>
<text x="362.3" y="807.4" font-size="9.2" fill="#7d7d7d" textLength="20.1" lengthAdjust="spacingAndGlyphs">Apr 7</text>
<text x="416.4" y="807.4" font-size="9.2" fill="#7d7d7d" textLength="24.0" lengthAdjust="spacingAndGlyphs">Apr 21</text>
<text x="479.2" y="807.4" font-size="9.2" fill="#7d7d7d" textLength="22.3" lengthAdjust="spacingAndGlyphs">May 5</text>
<text x="539.0" y="807.4" font-size="9.2" fill="#7d7d7d" textLength="26.7" lengthAdjust="spacingAndGlyphs">May 19</text>
<text x="598.4" y="807.4" font-size="9.2" fill="#7d7d7d" textLength="19.4" lengthAdjust="spacingAndGlyphs">Jun 2</text>
<text x="658.2" y="807.4" font-size="9.2" fill="#7d7d7d" textLength="23.8" lengthAdjust="spacingAndGlyphs">Jun 16</text>
<text x="726.9" y="807.4" font-size="9.2" fill="#7d7d7d" textLength="23.2" lengthAdjust="spacingAndGlyphs">Jun 30</text>
</g>
</svg>
</body></html>
